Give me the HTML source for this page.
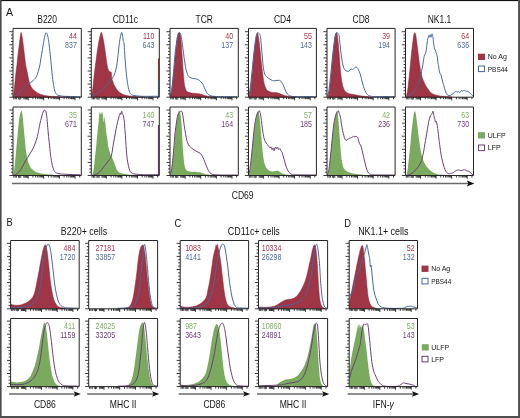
<!DOCTYPE html>
<html><head><meta charset="utf-8"><style>
html,body{margin:0;padding:0;background:#fff;}
body{width:520px;height:418px;overflow:hidden;}
svg{display:block;will-change:transform;}
text{font-family:"Liberation Sans",sans-serif;}
</style></head><body>
<svg xmlns="http://www.w3.org/2000/svg" width="520" height="418" viewBox="0 0 520 418">
<rect x="0" y="0" width="520" height="418" fill="#fff"/>
<path d="M13.40,97.00 C13.43,96.78 13.46,96.83 13.60,95.60 C13.74,94.37 14.04,91.76 14.30,89.30 C14.56,86.84 14.91,83.11 15.20,80.20 C15.49,77.29 15.81,73.63 16.10,71.10 C16.39,68.57 16.71,66.93 17.00,64.40 C17.29,61.87 17.56,58.21 17.90,55.30 C18.24,52.39 18.73,49.11 19.10,46.20 C19.47,43.29 19.88,39.31 20.20,37.10 C20.52,34.89 20.78,32.40 21.10,32.40 C21.42,32.40 21.83,34.89 22.20,37.10 C22.57,39.31 23.03,43.29 23.40,46.20 C23.77,49.11 24.15,52.39 24.50,55.30 C24.85,58.21 25.20,61.87 25.60,64.40 C26.00,66.93 26.63,69.31 27.00,71.10 C27.37,72.89 27.61,74.14 27.90,75.60 C28.19,77.06 28.43,78.74 28.80,80.20 C29.17,81.66 29.54,83.24 30.20,84.70 C30.86,86.16 31.73,87.99 32.90,89.30 C34.07,90.61 36.04,92.04 37.50,92.90 C38.96,93.76 40.26,94.19 42.00,94.70 C43.74,95.21 45.52,95.76 48.40,96.10 C51.28,96.44 56.54,96.64 60.00,96.80 C63.46,96.96 68.40,97.05 70.00,97.10 L70.00,97.20 L13.40,97.20 Z" fill="#9f3545" stroke="#8e2236" stroke-width="0.5"/>
<path d="M13.80,96.50 C14.39,96.21 16.48,95.42 17.50,94.70 C18.52,93.98 19.34,93.01 20.20,92.00 C21.06,90.99 22.04,89.42 22.90,88.40 C23.76,87.38 24.72,86.34 25.60,85.60 C26.48,84.86 27.66,84.23 28.40,83.80 C29.14,83.37 29.62,83.27 30.20,82.90 C30.78,82.53 31.38,82.03 32.00,81.50 C32.62,80.97 33.38,80.38 34.10,79.60 C34.82,78.82 35.84,77.88 36.50,76.60 C37.16,75.32 37.66,73.47 38.20,71.60 C38.74,69.73 39.37,67.59 39.90,64.90 C40.43,62.21 40.97,58.02 41.50,54.80 C42.03,51.58 42.66,47.89 43.20,44.80 C43.74,41.71 44.44,37.44 44.90,35.50 C45.36,33.56 45.70,32.83 46.10,32.70 C46.50,32.57 46.98,33.31 47.40,34.70 C47.82,36.09 48.30,38.71 48.70,41.40 C49.10,44.09 49.48,47.74 49.90,51.50 C50.32,55.26 50.90,60.88 51.30,64.90 C51.70,68.92 52.00,73.13 52.40,76.60 C52.80,80.07 53.32,84.06 53.80,86.60 C54.28,89.14 54.81,91.16 55.40,92.50 C55.99,93.84 56.64,94.47 57.50,95.00 C58.36,95.53 59.76,95.59 60.80,95.80 C61.84,96.01 62.08,96.19 64.00,96.30 C65.92,96.41 70.16,96.42 72.80,96.50 C75.44,96.58 79.27,96.75 80.50,96.80" fill="none" stroke="#46689a" stroke-width="1.00" stroke-linejoin="round"/>
<path d="M13.30,175.50 C13.33,175.26 13.32,175.04 13.50,174.00 C13.68,172.96 14.05,171.94 14.40,169.00 C14.75,166.06 15.30,159.89 15.70,155.60 C16.10,151.31 16.53,146.22 16.90,142.20 C17.27,138.18 17.66,133.99 18.00,130.50 C18.34,127.01 18.65,123.09 19.00,120.40 C19.35,117.71 19.82,115.25 20.20,113.70 C20.58,112.15 21.08,110.83 21.40,110.70 C21.72,110.57 21.93,111.35 22.20,112.90 C22.47,114.45 22.80,117.33 23.10,120.40 C23.40,123.47 23.78,128.61 24.10,132.10 C24.42,135.59 24.78,139.11 25.10,142.20 C25.42,145.29 25.76,148.86 26.10,151.40 C26.44,153.94 26.80,156.23 27.20,158.10 C27.60,159.97 28.10,161.68 28.60,163.10 C29.10,164.52 29.63,165.93 30.30,167.00 C30.97,168.07 31.87,169.00 32.80,169.80 C33.73,170.60 34.76,171.41 36.10,172.00 C37.44,172.59 39.46,173.13 41.20,173.50 C42.94,173.87 44.79,174.08 47.00,174.30 C49.21,174.52 52.12,174.74 55.00,174.90 C57.88,175.06 63.40,175.24 65.00,175.30 L65.00,175.50 L13.30,175.50 Z" fill="#7aaa5e"/>
<path d="M13.50,175.40 C14.17,175.05 16.48,174.22 17.70,173.20 C18.92,172.18 20.03,170.62 21.10,169.00 C22.17,167.38 23.33,164.97 24.40,163.10 C25.47,161.23 26.86,158.90 27.80,157.30 C28.74,155.70 29.50,154.44 30.30,153.10 C31.10,151.76 32.00,150.52 32.80,148.90 C33.60,147.28 34.63,144.74 35.30,143.00 C35.97,141.26 36.47,140.00 37.00,138.00 C37.53,136.00 38.10,132.90 38.60,130.50 C39.10,128.10 39.67,124.97 40.10,123.00 C40.53,121.03 40.92,119.69 41.30,118.20 C41.68,116.71 42.12,114.90 42.50,113.70 C42.88,112.50 43.30,111.23 43.70,110.70 C44.10,110.17 44.63,110.19 45.00,110.40 C45.37,110.61 45.68,110.67 46.00,112.00 C46.32,113.33 46.68,115.74 47.00,118.70 C47.32,121.66 47.65,126.74 48.00,130.50 C48.35,134.26 48.82,138.46 49.20,142.20 C49.58,145.94 50.00,150.68 50.40,153.90 C50.80,157.12 51.27,160.03 51.70,162.30 C52.13,164.57 52.62,166.63 53.10,168.10 C53.58,169.57 54.11,170.68 54.70,171.50 C55.29,172.32 55.66,172.80 56.80,173.20 C57.94,173.60 59.66,173.79 61.80,174.00 C63.94,174.21 67.21,174.37 70.20,174.50 C73.19,174.63 78.85,174.75 80.50,174.80" fill="none" stroke="#6c3d78" stroke-width="1.00" stroke-linejoin="round"/>
<path d="M91.80,97.00 C91.83,96.68 91.81,96.66 92.00,95.00 C92.19,93.34 92.65,89.82 93.00,86.60 C93.35,83.38 93.74,78.92 94.20,74.90 C94.66,70.88 95.37,65.52 95.90,61.50 C96.43,57.48 96.97,53.29 97.50,49.80 C98.03,46.31 98.74,42.12 99.20,39.70 C99.66,37.28 100.05,35.90 100.40,34.70 C100.75,33.50 101.11,32.20 101.40,32.20 C101.69,32.20 101.88,33.50 102.20,34.70 C102.52,35.90 103.00,37.56 103.40,39.70 C103.80,41.84 104.30,45.41 104.70,48.10 C105.10,50.79 105.56,54.08 105.90,56.50 C106.24,58.92 106.53,61.46 106.80,63.20 C107.07,64.94 107.28,66.20 107.60,67.40 C107.92,68.60 108.40,69.98 108.80,70.70 C109.20,71.42 109.70,71.63 110.10,71.90 C110.50,72.17 111.03,71.38 111.30,72.40 C111.57,73.42 111.54,76.83 111.80,78.30 C112.06,79.77 112.55,80.53 112.90,81.60 C113.25,82.67 113.65,84.20 114.00,85.00 C114.35,85.80 114.70,85.94 115.10,86.60 C115.50,87.26 115.96,88.32 116.50,89.10 C117.04,89.88 117.78,90.83 118.50,91.50 C119.22,92.17 120.20,92.80 121.00,93.30 C121.80,93.80 122.38,94.20 123.50,94.60 C124.62,95.00 126.16,95.50 128.00,95.80 C129.84,96.10 132.28,96.31 135.00,96.50 C137.72,96.69 143.40,96.92 145.00,97.00 L145.00,97.20 L91.80,97.20 Z" fill="#9f3545" stroke="#8e2236" stroke-width="0.5"/>
<path d="M91.70,96.70 C92.23,96.43 93.93,95.67 95.00,95.00 C96.07,94.33 97.33,93.30 98.40,92.50 C99.47,91.70 100.63,90.94 101.70,90.00 C102.77,89.06 104.03,87.67 105.10,86.60 C106.17,85.53 107.47,84.37 108.40,83.30 C109.33,82.23 110.08,80.97 110.90,79.90 C111.72,78.83 112.83,77.80 113.50,76.60 C114.17,75.40 114.57,74.27 115.10,72.40 C115.63,70.53 116.32,67.72 116.80,64.90 C117.28,62.08 117.70,58.22 118.10,54.80 C118.50,51.38 118.92,46.43 119.30,43.50 C119.68,40.57 120.12,38.28 120.50,36.50 C120.88,34.72 121.35,32.42 121.70,32.40 C122.05,32.38 122.43,34.96 122.70,36.40 C122.97,37.84 123.19,40.33 123.40,41.40 C123.61,42.47 123.79,41.23 124.00,43.10 C124.21,44.97 124.46,49.61 124.70,53.10 C124.94,56.59 125.18,61.14 125.50,64.90 C125.82,68.66 126.30,73.26 126.70,76.60 C127.10,79.94 127.52,83.26 128.00,85.80 C128.48,88.34 129.03,91.03 129.70,92.50 C130.37,93.97 131.13,94.47 132.20,95.00 C133.27,95.53 134.66,95.59 136.40,95.80 C138.14,96.01 139.61,96.22 143.10,96.30 C146.59,96.38 155.78,96.30 158.20,96.30" fill="none" stroke="#46689a" stroke-width="1.00" stroke-linejoin="round"/>
<path d="M92.30,175.50 C92.33,175.39 92.28,175.84 92.50,174.80 C92.72,173.76 93.30,171.80 93.70,169.00 C94.10,166.20 94.57,161.32 95.00,157.30 C95.43,153.28 96.00,147.93 96.40,143.90 C96.80,139.87 97.18,135.32 97.50,132.10 C97.82,128.88 98.13,126.47 98.40,123.80 C98.67,121.13 98.99,117.29 99.20,115.40 C99.41,113.51 99.51,112.14 99.70,112.00 C99.89,111.86 100.18,114.63 100.40,114.50 C100.62,114.37 100.89,111.20 101.10,111.20 C101.31,111.20 101.49,114.37 101.70,114.50 C101.91,114.63 102.18,111.60 102.40,112.00 C102.62,112.40 102.86,115.38 103.10,117.00 C103.34,118.62 103.64,122.10 103.90,122.10 C104.16,122.10 104.46,116.73 104.70,117.00 C104.94,117.27 105.16,121.38 105.40,123.80 C105.64,126.22 105.90,129.70 106.20,132.10 C106.50,134.50 107.00,136.66 107.30,138.80 C107.60,140.94 107.84,143.88 108.10,145.50 C108.36,147.12 108.63,147.83 108.90,148.90 C109.17,149.97 109.48,151.13 109.80,152.20 C110.12,153.27 110.53,154.66 110.90,155.60 C111.27,156.54 111.68,157.30 112.10,158.10 C112.52,158.90 113.10,159.66 113.50,160.60 C113.90,161.54 114.26,163.06 114.60,164.00 C114.94,164.94 115.25,165.57 115.60,166.50 C115.95,167.43 116.34,168.92 116.80,169.80 C117.26,170.68 117.80,171.46 118.50,172.00 C119.20,172.54 119.94,172.83 121.20,173.20 C122.46,173.57 124.19,174.01 126.40,174.30 C128.61,174.59 132.02,174.82 135.00,175.00 C137.98,175.18 143.40,175.34 145.00,175.40 L145.00,175.50 L92.30,175.50 Z" fill="#7aaa5e"/>
<path d="M91.70,175.60 C92.50,175.34 95.36,174.66 96.70,174.00 C98.04,173.34 99.03,172.57 100.10,171.50 C101.17,170.43 102.33,168.64 103.40,167.30 C104.47,165.96 105.86,164.30 106.80,163.10 C107.74,161.90 108.64,160.73 109.30,159.80 C109.96,158.87 110.45,158.52 110.90,157.30 C111.35,156.08 111.75,154.09 112.10,152.20 C112.45,150.31 112.75,147.64 113.10,145.50 C113.45,143.36 113.92,140.94 114.30,138.80 C114.68,136.66 115.10,134.24 115.50,132.10 C115.90,129.96 116.40,127.27 116.80,125.40 C117.20,123.53 117.60,121.97 118.00,120.40 C118.40,118.83 118.93,116.80 119.30,115.60 C119.67,114.40 120.03,113.08 120.30,112.90 C120.57,112.72 120.78,114.77 121.00,114.50 C121.22,114.23 121.46,111.33 121.70,111.20 C121.94,111.07 122.23,113.03 122.50,113.70 C122.77,114.37 123.18,114.60 123.40,115.40 C123.62,116.20 123.74,117.63 123.90,118.70 C124.06,119.77 124.22,120.21 124.40,122.10 C124.58,123.99 124.79,127.56 125.00,130.50 C125.21,133.44 125.48,137.28 125.70,140.50 C125.92,143.72 126.16,147.66 126.40,150.60 C126.64,153.54 126.88,156.50 127.20,158.90 C127.52,161.30 128.00,163.78 128.40,165.60 C128.80,167.42 129.22,169.15 129.70,170.30 C130.18,171.45 130.58,172.21 131.40,172.80 C132.22,173.39 132.93,173.70 134.80,174.00 C136.67,174.30 139.36,174.59 143.10,174.70 C146.84,174.81 155.78,174.70 158.20,174.70" fill="none" stroke="#6c3d78" stroke-width="1.00" stroke-linejoin="round"/>
<path d="M170.30,97.00 C170.33,96.81 170.28,96.92 170.50,95.80 C170.72,94.68 171.30,92.80 171.70,90.00 C172.10,87.20 172.57,82.32 173.00,78.30 C173.43,74.28 174.00,68.93 174.40,64.90 C174.80,60.87 175.13,56.59 175.50,53.10 C175.87,49.61 176.35,45.92 176.70,43.10 C177.05,40.28 177.38,37.16 177.70,35.50 C178.02,33.84 178.38,33.10 178.70,32.70 C179.02,32.30 179.40,32.41 179.70,33.00 C180.00,33.59 180.33,34.51 180.60,36.40 C180.87,38.29 181.14,41.58 181.40,44.80 C181.66,48.02 181.93,52.48 182.20,56.50 C182.47,60.52 182.83,66.16 183.10,69.90 C183.37,73.64 183.63,77.23 183.90,79.90 C184.17,82.57 184.45,84.94 184.80,86.60 C185.15,88.26 185.62,89.44 186.10,90.30 C186.58,91.16 186.94,91.57 187.80,92.00 C188.66,92.43 190.11,92.76 191.50,93.00 C192.89,93.24 195.14,93.34 196.50,93.50 C197.86,93.66 199.12,93.82 200.00,94.00 C200.88,94.18 201.20,94.33 202.00,94.60 C202.80,94.87 204.04,95.44 205.00,95.70 C205.96,95.96 206.88,96.06 208.00,96.20 C209.12,96.34 210.72,96.47 212.00,96.60 C213.28,96.73 215.36,96.94 216.00,97.00 L216.00,97.20 L170.30,97.20 Z" fill="#9f3545" stroke="#8e2236" stroke-width="0.5"/>
<path d="M170.00,95.80 C170.22,95.14 170.97,93.97 171.40,91.70 C171.83,89.43 172.30,85.36 172.70,81.60 C173.10,77.84 173.53,72.49 173.90,68.20 C174.27,63.91 174.60,58.82 175.00,54.80 C175.40,50.78 176.00,46.04 176.40,43.10 C176.80,40.16 177.15,37.95 177.50,36.40 C177.85,34.85 178.25,33.99 178.60,33.40 C178.95,32.81 179.38,32.62 179.70,32.70 C180.02,32.78 180.28,32.78 180.60,33.90 C180.92,35.02 181.30,37.16 181.70,39.70 C182.10,42.24 182.67,46.58 183.10,49.80 C183.53,53.02 184.00,56.98 184.40,59.80 C184.80,62.62 185.22,65.38 185.60,67.40 C185.98,69.42 186.40,71.07 186.80,72.40 C187.20,73.73 187.62,74.90 188.10,75.70 C188.58,76.50 189.13,76.98 189.80,77.40 C190.47,77.82 191.50,78.11 192.30,78.30 C193.10,78.49 194.00,78.44 194.80,78.60 C195.60,78.76 196.55,79.00 197.30,79.30 C198.05,79.60 198.75,79.89 199.50,80.50 C200.25,81.11 201.36,82.28 202.00,83.10 C202.64,83.92 203.02,84.62 203.50,85.60 C203.98,86.58 204.52,88.14 205.00,89.20 C205.48,90.26 205.92,91.32 206.50,92.20 C207.08,93.08 207.86,94.11 208.60,94.70 C209.34,95.29 210.06,95.63 211.10,95.90 C212.14,96.17 213.18,96.29 215.10,96.40 C217.02,96.51 219.60,96.57 223.10,96.60 C226.60,96.63 234.78,96.60 237.00,96.60" fill="none" stroke="#46689a" stroke-width="1.00" stroke-linejoin="round"/>
<path d="M170.30,175.50 C170.33,175.39 170.28,175.84 170.50,174.80 C170.72,173.76 171.30,171.80 171.70,169.00 C172.10,166.20 172.57,161.32 173.00,157.30 C173.43,153.28 174.00,147.93 174.40,143.90 C174.80,139.87 175.13,135.59 175.50,132.10 C175.87,128.61 176.35,124.92 176.70,122.10 C177.05,119.28 177.40,116.24 177.70,114.50 C178.00,112.76 178.33,111.81 178.60,111.20 C178.87,110.59 179.14,110.43 179.40,110.70 C179.66,110.97 179.93,111.62 180.20,112.90 C180.47,114.18 180.83,115.88 181.10,118.70 C181.37,121.52 181.64,126.21 181.90,130.50 C182.16,134.79 182.43,141.21 182.70,145.50 C182.97,149.79 183.33,154.21 183.60,157.30 C183.87,160.39 184.08,162.93 184.40,164.80 C184.72,166.67 185.14,168.01 185.60,169.00 C186.06,169.99 186.63,170.60 187.30,171.00 C187.97,171.40 188.87,171.37 189.80,171.50 C190.73,171.63 192.03,171.72 193.10,171.80 C194.17,171.88 195.64,171.92 196.50,172.00 C197.36,172.08 197.94,172.25 198.50,172.30 C199.06,172.35 199.44,172.20 200.00,172.30 C200.56,172.40 201.20,172.63 202.00,172.90 C202.80,173.17 204.04,173.73 205.00,174.00 C205.96,174.27 206.86,174.42 208.00,174.60 C209.14,174.78 210.82,174.96 212.10,175.10 C213.38,175.24 215.38,175.44 216.00,175.50 L216.00,175.50 L170.30,175.50 Z" fill="#7aaa5e"/>
<path d="M170.00,174.80 C170.22,174.14 170.97,172.97 171.40,170.70 C171.83,168.43 172.30,164.36 172.70,160.60 C173.10,156.84 173.53,151.49 173.90,147.20 C174.27,142.91 174.60,137.69 175.00,133.80 C175.40,129.91 176.00,125.72 176.40,122.90 C176.80,120.08 177.10,117.80 177.50,116.20 C177.90,114.60 178.48,113.57 178.90,112.90 C179.32,112.23 179.75,112.27 180.10,112.00 C180.45,111.73 180.78,111.20 181.10,111.20 C181.42,111.20 181.78,111.07 182.10,112.00 C182.42,112.93 182.76,114.86 183.10,117.00 C183.44,119.14 183.80,122.71 184.20,125.40 C184.60,128.09 185.17,131.38 185.60,133.80 C186.03,136.22 186.45,138.76 186.90,140.50 C187.35,142.24 187.81,143.63 188.40,144.70 C188.99,145.77 189.85,146.48 190.60,147.20 C191.35,147.92 192.30,148.61 193.10,149.20 C193.90,149.79 194.82,150.44 195.60,150.90 C196.38,151.36 197.30,151.75 198.00,152.10 C198.70,152.45 199.44,152.65 200.00,153.10 C200.56,153.55 201.02,154.18 201.50,154.90 C201.98,155.62 202.52,156.61 203.00,157.60 C203.48,158.59 204.02,159.90 204.50,161.10 C204.98,162.30 205.52,163.88 206.00,165.10 C206.48,166.32 207.00,167.64 207.50,168.70 C208.00,169.76 208.52,170.90 209.10,171.70 C209.68,172.50 210.30,173.22 211.10,173.70 C211.90,174.18 212.18,174.49 214.10,174.70 C216.02,174.91 219.36,174.95 223.10,175.00 C226.84,175.05 235.20,175.00 237.50,175.00" fill="none" stroke="#6c3d78" stroke-width="1.00" stroke-linejoin="round"/>
<path d="M248.80,97.00 C248.83,96.81 248.78,96.65 249.00,95.80 C249.22,94.95 249.82,93.97 250.20,91.70 C250.58,89.43 251.00,85.36 251.40,81.60 C251.80,77.84 252.28,72.49 252.70,68.20 C253.12,63.91 253.60,58.69 254.00,54.80 C254.40,50.91 254.82,46.84 255.20,43.90 C255.58,40.96 256.05,38.08 256.40,36.40 C256.75,34.72 257.11,33.54 257.40,33.40 C257.69,33.26 257.93,34.22 258.20,35.50 C258.47,36.78 258.78,38.84 259.10,41.40 C259.42,43.96 259.83,48.01 260.20,51.50 C260.57,54.99 260.98,59.46 261.40,63.20 C261.82,66.94 262.37,71.68 262.80,74.90 C263.23,78.12 263.62,81.16 264.10,83.30 C264.58,85.44 265.21,87.10 265.80,88.30 C266.39,89.50 266.95,90.18 267.80,90.80 C268.65,91.42 269.90,91.91 271.10,92.20 C272.30,92.49 274.04,92.42 275.30,92.60 C276.56,92.78 277.93,92.98 279.00,93.30 C280.07,93.62 281.04,94.22 282.00,94.60 C282.96,94.98 284.02,95.44 285.00,95.70 C285.98,95.96 287.12,96.06 288.10,96.20 C289.08,96.34 290.00,96.47 291.10,96.60 C292.20,96.73 294.38,96.94 295.00,97.00 L295.00,97.20 L248.80,97.20 Z" fill="#9f3545" stroke="#8e2236" stroke-width="0.5"/>
<path d="M248.50,95.80 C248.69,95.14 249.30,93.97 249.70,91.70 C250.10,89.43 250.57,85.36 251.00,81.60 C251.43,77.84 251.97,72.49 252.40,68.20 C252.83,63.91 253.28,58.69 253.70,54.80 C254.12,50.91 254.62,46.84 255.00,43.90 C255.38,40.96 255.76,38.14 256.10,36.40 C256.44,34.66 256.78,33.59 257.10,33.00 C257.42,32.41 257.73,32.56 258.10,32.70 C258.47,32.84 259.03,33.31 259.40,33.90 C259.77,34.49 260.08,34.40 260.40,36.40 C260.72,38.40 261.08,42.91 261.40,46.40 C261.72,49.89 262.08,54.71 262.40,58.20 C262.72,61.69 263.02,65.66 263.40,68.20 C263.78,70.74 264.32,72.76 264.80,74.10 C265.28,75.44 265.79,75.93 266.40,76.60 C267.01,77.27 267.85,77.77 268.60,78.30 C269.35,78.83 270.30,79.50 271.10,79.90 C271.90,80.30 272.78,80.70 273.60,80.80 C274.42,80.90 275.42,80.58 276.20,80.50 C276.98,80.42 277.84,80.27 278.50,80.30 C279.16,80.33 279.82,80.41 280.30,80.70 C280.78,80.99 281.07,81.48 281.50,82.10 C281.93,82.72 282.52,83.62 283.00,84.60 C283.48,85.58 284.02,87.06 284.50,88.20 C284.98,89.34 285.50,90.74 286.00,91.70 C286.50,92.66 287.02,93.56 287.60,94.20 C288.18,94.84 288.88,95.35 289.60,95.70 C290.32,96.05 291.06,96.26 292.10,96.40 C293.14,96.54 292.28,96.57 296.10,96.60 C299.92,96.63 312.82,96.60 316.00,96.60" fill="none" stroke="#46689a" stroke-width="1.00" stroke-linejoin="round"/>
<path d="M248.80,175.50 C248.83,175.39 248.78,175.84 249.00,174.80 C249.22,173.76 249.82,171.80 250.20,169.00 C250.58,166.20 251.00,161.32 251.40,157.30 C251.80,153.28 252.28,147.93 252.70,143.90 C253.12,139.87 253.60,135.46 254.00,132.10 C254.40,128.74 254.82,125.57 255.20,122.90 C255.58,120.23 256.05,117.14 256.40,115.40 C256.75,113.66 257.11,112.75 257.40,112.00 C257.69,111.25 257.93,110.43 258.20,110.70 C258.47,110.97 258.80,111.88 259.10,113.70 C259.40,115.52 259.78,118.88 260.10,122.10 C260.42,125.32 260.78,130.06 261.10,133.80 C261.42,137.54 261.78,142.01 262.10,145.50 C262.42,148.99 262.73,152.78 263.10,155.60 C263.47,158.42 263.92,161.18 264.40,163.10 C264.88,165.02 265.43,166.45 266.10,167.60 C266.77,168.75 267.66,169.68 268.60,170.30 C269.54,170.92 270.93,171.39 272.00,171.50 C273.07,171.61 274.42,171.13 275.30,171.00 C276.18,170.87 276.91,170.65 277.50,170.70 C278.09,170.75 278.44,170.98 279.00,171.30 C279.56,171.62 280.20,172.27 281.00,172.70 C281.80,173.13 282.86,173.66 284.00,174.00 C285.14,174.34 286.82,174.56 288.10,174.80 C289.38,175.04 291.38,175.39 292.00,175.50 L292.00,175.50 L248.80,175.50 Z" fill="#7aaa5e"/>
<path d="M248.50,174.80 C248.69,174.14 249.30,172.97 249.70,170.70 C250.10,168.43 250.57,164.36 251.00,160.60 C251.43,156.84 251.97,151.49 252.40,147.20 C252.83,142.91 253.28,137.69 253.70,133.80 C254.12,129.91 254.57,125.72 255.00,122.90 C255.43,120.08 255.97,117.80 256.40,116.20 C256.83,114.60 257.33,113.62 257.70,112.90 C258.07,112.18 258.43,112.05 258.70,111.70 C258.97,111.35 259.13,110.38 259.40,110.70 C259.67,111.02 260.08,112.15 260.40,113.70 C260.72,115.25 261.08,117.98 261.40,120.40 C261.72,122.82 262.05,126.26 262.40,128.80 C262.75,131.34 263.22,134.43 263.60,136.30 C263.98,138.17 264.40,139.43 264.80,140.50 C265.20,141.57 265.68,142.33 266.10,143.00 C266.52,143.67 266.97,144.16 267.40,144.70 C267.83,145.24 268.38,145.87 268.80,146.40 C269.22,146.93 269.63,147.92 270.00,148.00 C270.37,148.08 270.78,146.63 271.10,146.90 C271.42,147.17 271.68,149.52 272.00,149.70 C272.32,149.88 272.76,147.81 273.10,148.00 C273.44,148.19 273.75,151.03 274.10,150.90 C274.45,150.77 274.92,147.50 275.30,147.20 C275.68,146.90 276.15,149.03 276.50,149.00 C276.85,148.97 277.15,146.92 277.50,147.00 C277.85,147.08 278.30,149.24 278.70,149.50 C279.10,149.76 279.63,148.34 280.00,148.60 C280.37,148.86 280.68,150.54 281.00,151.10 C281.32,151.66 281.68,151.38 282.00,152.10 C282.32,152.82 282.68,154.48 283.00,155.60 C283.32,156.72 283.68,157.98 284.00,159.10 C284.32,160.22 284.68,161.48 285.00,162.60 C285.32,163.72 285.63,165.04 286.00,166.10 C286.37,167.16 286.88,168.30 287.30,169.20 C287.72,170.10 288.15,171.03 288.60,171.70 C289.05,172.37 289.54,172.97 290.10,173.40 C290.66,173.83 291.14,174.18 292.10,174.40 C293.06,174.62 292.28,174.70 296.10,174.80 C299.92,174.90 312.82,174.97 316.00,175.00" fill="none" stroke="#6c3d78" stroke-width="1.00" stroke-linejoin="round"/>
<path d="M327.80,97.00 C327.83,96.81 327.78,96.65 328.00,95.80 C328.22,94.95 328.82,93.97 329.20,91.70 C329.58,89.43 330.00,85.36 330.40,81.60 C330.80,77.84 331.28,72.49 331.70,68.20 C332.12,63.91 332.60,58.69 333.00,54.80 C333.40,50.91 333.82,46.99 334.20,43.90 C334.58,40.81 335.05,37.29 335.40,35.50 C335.75,33.71 336.11,32.83 336.40,32.70 C336.69,32.57 336.93,33.31 337.20,34.70 C337.47,36.09 337.80,38.46 338.10,41.40 C338.40,44.34 338.78,49.08 339.10,53.10 C339.42,57.12 339.78,62.74 340.10,66.50 C340.42,70.26 340.75,73.78 341.10,76.60 C341.45,79.42 341.87,82.10 342.30,84.10 C342.73,86.10 343.22,87.84 343.80,89.10 C344.38,90.36 345.02,91.26 345.90,92.00 C346.78,92.74 347.96,93.28 349.30,93.70 C350.64,94.12 352.91,94.31 354.30,94.60 C355.69,94.89 356.77,95.26 358.00,95.50 C359.23,95.74 360.72,95.94 362.00,96.10 C363.28,96.26 364.56,96.36 366.00,96.50 C367.44,96.64 370.20,96.92 371.00,97.00 L371.00,97.20 L327.80,97.20 Z" fill="#9f3545" stroke="#8e2236" stroke-width="0.5"/>
<path d="M327.50,95.80 C327.69,95.14 328.30,93.97 328.70,91.70 C329.10,89.43 329.57,85.36 330.00,81.60 C330.43,77.84 330.97,72.49 331.40,68.20 C331.83,63.91 332.28,58.69 332.70,54.80 C333.12,50.91 333.63,46.84 334.00,43.90 C334.37,40.96 334.66,38.14 335.00,36.40 C335.34,34.66 335.76,33.59 336.10,33.00 C336.44,32.41 336.78,32.64 337.10,32.70 C337.42,32.76 337.78,32.95 338.10,33.40 C338.42,33.85 338.78,33.68 339.10,35.50 C339.42,37.32 339.76,41.71 340.10,44.80 C340.44,47.89 340.80,51.86 341.20,54.80 C341.60,57.74 342.17,61.06 342.60,63.20 C343.03,65.34 343.37,67.00 343.90,68.20 C344.43,69.40 345.16,70.22 345.90,70.70 C346.64,71.18 347.68,71.47 348.50,71.20 C349.32,70.93 350.34,69.27 351.00,69.00 C351.66,68.73 352.07,69.63 352.60,69.50 C353.13,69.37 353.76,68.62 354.30,68.20 C354.84,67.78 355.46,66.87 356.00,66.90 C356.54,66.93 357.17,67.65 357.70,68.40 C358.23,69.15 358.80,70.37 359.30,71.60 C359.80,72.83 360.37,74.58 360.80,76.10 C361.23,77.62 361.57,79.42 362.00,81.10 C362.43,82.78 363.02,85.06 363.50,86.60 C363.98,88.14 364.50,89.56 365.00,90.70 C365.50,91.84 366.02,92.95 366.60,93.70 C367.18,94.45 367.88,95.00 368.60,95.40 C369.32,95.80 370.06,96.01 371.10,96.20 C372.14,96.39 371.36,96.54 375.10,96.60 C378.84,96.66 391.40,96.60 394.50,96.60" fill="none" stroke="#46689a" stroke-width="1.00" stroke-linejoin="round"/>
<path d="M327.80,175.50 C327.83,175.39 327.78,175.84 328.00,174.80 C328.22,173.76 328.82,171.80 329.20,169.00 C329.58,166.20 330.00,161.32 330.40,157.30 C330.80,153.28 331.28,147.93 331.70,143.90 C332.12,139.87 332.60,135.46 333.00,132.10 C333.40,128.74 333.82,125.57 334.20,122.90 C334.58,120.23 335.05,117.19 335.40,115.40 C335.75,113.61 336.13,112.37 336.40,111.70 C336.67,111.03 336.86,110.75 337.10,111.20 C337.34,111.65 337.64,112.48 337.90,114.50 C338.16,116.52 338.41,120.17 338.70,123.80 C338.99,127.43 339.38,132.91 339.70,137.20 C340.02,141.49 340.36,146.86 340.70,150.60 C341.04,154.34 341.42,158.06 341.80,160.60 C342.18,163.14 342.62,165.03 343.10,166.50 C343.58,167.97 344.08,168.95 344.80,169.80 C345.52,170.65 346.48,171.26 347.60,171.80 C348.72,172.34 350.33,172.85 351.80,173.20 C353.27,173.55 355.33,173.79 356.80,174.00 C358.27,174.21 359.53,174.36 361.00,174.50 C362.47,174.64 364.24,174.74 366.00,174.90 C367.76,175.06 371.04,175.40 372.00,175.50 L372.00,175.50 L327.80,175.50 Z" fill="#7aaa5e"/>
<path d="M327.50,174.80 C327.69,174.14 328.30,172.97 328.70,170.70 C329.10,168.43 329.57,164.36 330.00,160.60 C330.43,156.84 330.97,151.49 331.40,147.20 C331.83,142.91 332.28,137.69 332.70,133.80 C333.12,129.91 333.57,125.72 334.00,122.90 C334.43,120.08 334.97,117.80 335.40,116.20 C335.83,114.60 336.33,113.62 336.70,112.90 C337.07,112.18 337.43,112.05 337.70,111.70 C337.97,111.35 338.13,110.38 338.40,110.70 C338.67,111.02 339.08,112.69 339.40,113.70 C339.72,114.71 340.08,115.38 340.40,117.00 C340.72,118.62 341.05,121.64 341.40,123.80 C341.75,125.96 342.22,128.63 342.60,130.50 C342.98,132.37 343.45,134.17 343.80,135.50 C344.15,136.83 344.46,138.00 344.80,138.80 C345.14,139.60 345.53,140.36 345.90,140.50 C346.27,140.64 346.68,139.97 347.10,139.70 C347.52,139.43 348.07,139.07 348.50,138.80 C348.93,138.53 349.40,138.13 349.80,138.00 C350.20,137.87 350.63,138.13 351.00,138.00 C351.37,137.87 351.70,137.47 352.10,137.20 C352.50,136.93 353.07,136.36 353.50,136.30 C353.93,136.24 354.37,136.80 354.80,136.80 C355.23,136.80 355.77,136.24 356.20,136.30 C356.63,136.36 357.13,136.58 357.50,137.20 C357.87,137.82 358.18,139.19 358.50,140.20 C358.82,141.21 359.10,142.57 359.50,143.50 C359.90,144.43 360.60,144.94 361.00,146.00 C361.40,147.06 361.68,148.80 362.00,150.10 C362.32,151.40 362.68,152.74 363.00,154.10 C363.32,155.46 363.66,157.16 364.00,158.60 C364.34,160.04 364.76,161.72 365.10,163.10 C365.44,164.48 365.75,165.98 366.10,167.20 C366.45,168.42 366.90,169.77 367.30,170.70 C367.70,171.63 368.07,172.41 368.60,173.00 C369.13,173.59 369.72,174.10 370.60,174.40 C371.48,174.70 370.28,174.80 374.10,174.90 C377.92,175.00 391.24,174.98 394.50,175.00" fill="none" stroke="#6c3d78" stroke-width="1.00" stroke-linejoin="round"/>
<path d="M406.30,97.00 C406.33,96.81 406.28,96.92 406.50,95.80 C406.72,94.68 407.30,92.80 407.70,90.00 C408.10,87.20 408.57,82.32 409.00,78.30 C409.43,74.28 410.00,68.93 410.40,64.90 C410.80,60.87 411.13,56.59 411.50,53.10 C411.87,49.61 412.35,45.92 412.70,43.10 C413.05,40.28 413.38,37.16 413.70,35.50 C414.02,33.84 414.38,32.83 414.70,32.70 C415.02,32.57 415.38,33.31 415.70,34.70 C416.02,36.09 416.38,38.98 416.70,41.40 C417.02,43.82 417.38,47.11 417.70,49.80 C418.02,52.49 418.35,55.53 418.70,58.20 C419.05,60.87 419.52,64.10 419.90,66.50 C420.28,68.90 420.70,71.31 421.10,73.20 C421.50,75.09 421.97,76.96 422.40,78.30 C422.83,79.64 423.32,80.53 423.80,81.60 C424.28,82.67 424.81,83.93 425.40,85.00 C425.99,86.07 426.76,87.23 427.50,88.30 C428.24,89.37 429.20,90.82 430.00,91.70 C430.80,92.58 431.57,93.26 432.50,93.80 C433.43,94.34 434.60,94.75 435.80,95.10 C437.00,95.45 438.53,95.79 440.00,96.00 C441.47,96.21 443.08,96.24 445.00,96.40 C446.92,96.56 450.88,96.90 452.00,97.00 L452.00,97.20 L406.30,97.20 Z" fill="#9f3545" stroke="#8e2236" stroke-width="0.5"/>
<path d="M406.50,96.70 C407.04,96.43 408.83,95.67 409.90,95.00 C410.97,94.33 412.27,93.44 413.20,92.50 C414.13,91.56 414.90,90.44 415.70,89.10 C416.50,87.76 417.53,85.83 418.20,84.10 C418.87,82.37 419.36,80.30 419.90,78.30 C420.44,76.30 421.14,73.74 421.60,71.60 C422.06,69.46 422.45,67.04 422.80,64.90 C423.15,62.76 423.51,59.82 423.80,58.20 C424.09,56.58 424.34,55.47 424.60,54.80 C424.86,54.13 425.13,54.80 425.40,54.00 C425.67,53.20 426.03,51.54 426.30,49.80 C426.57,48.06 426.83,44.97 427.10,43.10 C427.37,41.23 427.73,39.32 428.00,38.10 C428.27,36.88 428.56,35.64 428.80,35.50 C429.04,35.36 429.26,37.33 429.50,37.20 C429.74,37.07 430.04,34.70 430.30,34.70 C430.56,34.70 430.83,37.33 431.10,37.20 C431.37,37.07 431.73,34.03 432.00,33.90 C432.27,33.77 432.54,34.93 432.80,36.40 C433.06,37.87 433.33,41.10 433.60,43.10 C433.87,45.10 434.23,47.83 434.50,48.90 C434.77,49.97 435.03,49.13 435.30,49.80 C435.57,50.47 435.90,52.03 436.20,53.10 C436.50,54.17 436.91,54.88 437.20,56.50 C437.49,58.12 437.79,61.76 438.00,63.20 C438.21,64.64 438.26,64.08 438.50,65.50 C438.74,66.92 439.10,70.56 439.50,72.10 C439.90,73.64 440.60,73.98 441.00,75.10 C441.40,76.22 441.68,77.82 442.00,79.10 C442.32,80.38 442.68,81.98 443.00,83.10 C443.32,84.22 443.66,84.96 444.00,86.10 C444.34,87.24 444.68,88.98 445.10,90.20 C445.52,91.42 446.12,92.85 446.60,93.70 C447.08,94.55 447.54,95.21 448.10,95.50 C448.66,95.79 449.46,95.71 450.10,95.50 C450.74,95.29 451.46,94.65 452.10,94.20 C452.74,93.75 453.54,93.15 454.10,92.70 C454.66,92.25 455.12,91.51 455.60,91.40 C456.08,91.29 456.62,91.95 457.10,92.00 C457.58,92.05 458.15,91.62 458.60,91.70 C459.05,91.78 459.50,92.68 459.90,92.50 C460.30,92.32 460.67,90.81 461.10,90.60 C461.53,90.39 462.10,91.26 462.60,91.20 C463.10,91.14 463.70,90.20 464.20,90.20 C464.70,90.20 465.14,91.01 465.70,91.20 C466.26,91.39 467.06,91.16 467.70,91.40 C468.34,91.64 469.06,92.17 469.70,92.70 C470.34,93.23 471.14,94.11 471.70,94.70 C472.26,95.29 472.96,96.13 473.20,96.40" fill="none" stroke="#46689a" stroke-width="1.00" stroke-linejoin="round"/>
<path d="M406.30,175.50 C406.33,175.39 406.28,175.84 406.50,174.80 C406.72,173.76 407.30,171.80 407.70,169.00 C408.10,166.20 408.57,161.32 409.00,157.30 C409.43,153.28 410.00,147.93 410.40,143.90 C410.80,139.87 411.13,135.59 411.50,132.10 C411.87,128.61 412.35,124.92 412.70,122.10 C413.05,119.28 413.38,116.24 413.70,114.50 C414.02,112.76 414.38,111.46 414.70,111.20 C415.02,110.94 415.38,111.43 415.70,112.90 C416.02,114.37 416.38,117.86 416.70,120.40 C417.02,122.94 417.38,126.11 417.70,128.80 C418.02,131.49 418.35,134.53 418.70,137.20 C419.05,139.87 419.52,143.10 419.90,145.50 C420.28,147.90 420.70,150.18 421.10,152.20 C421.50,154.22 421.97,156.63 422.40,158.10 C422.83,159.57 423.32,160.33 423.80,161.40 C424.28,162.47 424.81,163.81 425.40,164.80 C425.99,165.79 426.76,166.72 427.50,167.60 C428.24,168.48 429.20,169.55 430.00,170.30 C430.80,171.05 431.57,171.76 432.50,172.30 C433.43,172.84 434.60,173.35 435.80,173.70 C437.00,174.05 437.73,174.29 440.00,174.50 C442.27,174.71 444.88,174.89 450.00,175.00 C455.12,175.11 468.48,175.17 472.00,175.20 L472.00,175.50 L406.30,175.50 Z" fill="#7aaa5e"/>
<path d="M406.50,175.60 C407.17,175.34 409.48,174.66 410.70,174.00 C411.92,173.34 413.03,172.44 414.10,171.50 C415.17,170.56 416.47,169.30 417.40,168.10 C418.33,166.90 419.23,165.20 419.90,164.00 C420.57,162.80 421.14,161.94 421.60,160.60 C422.06,159.26 422.45,157.20 422.80,155.60 C423.15,154.00 423.46,152.47 423.80,150.60 C424.14,148.73 424.53,146.04 424.90,143.90 C425.27,141.76 425.68,139.62 426.10,137.20 C426.52,134.78 427.07,131.36 427.50,128.80 C427.93,126.24 428.40,123.09 428.80,121.20 C429.20,119.31 429.63,118.07 430.00,117.00 C430.37,115.93 430.76,115.03 431.10,114.50 C431.44,113.97 431.80,114.23 432.10,113.70 C432.40,113.17 432.73,110.93 433.00,111.20 C433.27,111.47 433.53,114.20 433.80,115.40 C434.07,116.60 434.43,117.63 434.70,118.70 C434.97,119.77 435.24,121.70 435.50,122.10 C435.76,122.50 436.03,120.67 436.30,121.20 C436.57,121.73 436.90,123.66 437.20,125.40 C437.50,127.14 437.88,129.52 438.20,132.10 C438.52,134.68 438.91,139.10 439.20,141.50 C439.49,143.90 439.71,145.08 440.00,147.10 C440.29,149.12 440.65,152.02 441.00,154.10 C441.35,156.18 441.80,158.34 442.20,160.10 C442.60,161.86 443.04,163.56 443.50,165.10 C443.96,166.64 444.60,168.53 445.10,169.70 C445.60,170.87 446.04,171.74 446.60,172.40 C447.16,173.06 447.96,173.64 448.60,173.80 C449.24,173.96 449.96,173.53 450.60,173.40 C451.24,173.27 451.96,173.27 452.60,173.00 C453.24,172.73 453.96,172.12 454.60,171.70 C455.24,171.28 455.96,170.67 456.60,170.40 C457.24,170.13 457.96,169.97 458.60,170.00 C459.24,170.03 459.96,170.57 460.60,170.60 C461.24,170.63 461.94,170.33 462.60,170.20 C463.26,170.07 464.04,169.72 464.70,169.80 C465.36,169.88 466.06,170.44 466.70,170.70 C467.34,170.96 468.06,171.08 468.70,171.40 C469.34,171.72 470.03,172.12 470.70,172.70 C471.37,173.28 472.55,174.63 472.90,175.00" fill="none" stroke="#6c3d78" stroke-width="1.00" stroke-linejoin="round"/>
<path d="M158.5,58.5V97" stroke="#9f3545" stroke-width="1.2"/>
<path d="M158.5,80V97" stroke="#46689a" stroke-width="0.9"/>
<path d="M158.5,125V175" stroke="#6c3d78" stroke-width="1.2"/>
<path d="M9.4,97.2H13.0M11.0,93.9H13.0M11.0,90.7H13.0M11.0,87.4H13.0M9.4,84.1H13.0M11.0,80.8H13.0M11.0,77.6H13.0M11.0,74.3H13.0M9.4,71.0H13.0M11.0,67.7H13.0M11.0,64.5H13.0M11.0,61.2H13.0M9.4,57.9H13.0M11.0,54.6H13.0M11.0,51.4H13.0M11.0,48.1H13.0M9.4,44.8H13.0M11.0,41.5H13.0M11.0,38.3H13.0M11.0,35.0H13.0M9.4,31.7H13.0M13.8,97.2V99.4M15.2,97.2V99.4M16.6,97.2V99.4M18.6,97.2V99.4M19.7,97.2V99.8M20.8,97.2V99.4M23.8,97.2V99.4M24.9,97.2V99.4M25.8,97.2V99.4M26.7,97.2V99.4M27.3,97.2V99.4M28.2,97.2V100.4M43.7,97.2V100.4M59.4,97.2V100.4M75.0,97.2V100.4M32.9,97.2V99.2M35.6,97.2V99.2M37.6,97.2V99.2M39.1,97.2V99.2M40.3,97.2V99.2M41.4,97.2V99.2M42.3,97.2V99.2M43.1,97.2V99.2M48.4,97.2V99.2M51.2,97.2V99.2M53.2,97.2V99.2M54.7,97.2V99.2M55.9,97.2V99.2M57.0,97.2V99.2M57.9,97.2V99.2M58.7,97.2V99.2M64.1,97.2V99.2M66.8,97.2V99.2M68.8,97.2V99.2M70.3,97.2V99.2M71.5,97.2V99.2M72.6,97.2V99.2M73.5,97.2V99.2M74.3,97.2V99.2M79.7,97.2V99.2" stroke="#1a1a1a" stroke-width="0.85" fill="none"/>
<path d="M13.0,28.4H81.3V97.2H13.0Z" fill="none" stroke="#262626" stroke-width="1"/>
<path d="M9.4,175.5H13.0M11.0,172.2H13.0M11.0,168.9H13.0M11.0,165.7H13.0M9.4,162.4H13.0M11.0,159.1H13.0M11.0,155.8H13.0M11.0,152.6H13.0M9.4,149.3H13.0M11.0,146.0H13.0M11.0,142.8H13.0M11.0,139.5H13.0M9.4,136.2H13.0M11.0,132.9H13.0M11.0,129.6H13.0M11.0,126.4H13.0M9.4,123.1H13.0M11.0,119.8H13.0M11.0,116.5H13.0M11.0,113.3H13.0M9.4,110.0H13.0M13.8,175.5V177.7M15.2,175.5V177.7M16.6,175.5V177.7M18.6,175.5V177.7M19.7,175.5V178.1M20.8,175.5V177.7M23.8,175.5V177.7M24.9,175.5V177.7M25.8,175.5V177.7M26.7,175.5V177.7M27.3,175.5V177.7M28.2,175.5V178.7M43.7,175.5V178.7M59.4,175.5V178.7M75.0,175.5V178.7M32.9,175.5V177.5M35.6,175.5V177.5M37.6,175.5V177.5M39.1,175.5V177.5M40.3,175.5V177.5M41.4,175.5V177.5M42.3,175.5V177.5M43.1,175.5V177.5M48.4,175.5V177.5M51.2,175.5V177.5M53.2,175.5V177.5M54.7,175.5V177.5M55.9,175.5V177.5M57.0,175.5V177.5M57.9,175.5V177.5M58.7,175.5V177.5M64.1,175.5V177.5M66.8,175.5V177.5M68.8,175.5V177.5M70.3,175.5V177.5M71.5,175.5V177.5M72.6,175.5V177.5M73.5,175.5V177.5M74.3,175.5V177.5M79.7,175.5V177.5" stroke="#1a1a1a" stroke-width="0.85" fill="none"/>
<path d="M13.0,107.0H81.3V175.5H13.0Z" fill="none" stroke="#262626" stroke-width="1"/>
<path d="M87.7,97.2H91.3M89.3,93.9H91.3M89.3,90.7H91.3M89.3,87.4H91.3M87.7,84.1H91.3M89.3,80.8H91.3M89.3,77.6H91.3M89.3,74.3H91.3M87.7,71.0H91.3M89.3,67.7H91.3M89.3,64.5H91.3M89.3,61.2H91.3M87.7,57.9H91.3M89.3,54.6H91.3M89.3,51.4H91.3M89.3,48.1H91.3M87.7,44.8H91.3M89.3,41.5H91.3M89.3,38.3H91.3M89.3,35.0H91.3M87.7,31.7H91.3M92.1,97.2V99.4M93.5,97.2V99.4M94.8,97.2V99.4M96.9,97.2V99.4M98.0,97.2V99.8M99.1,97.2V99.4M102.0,97.2V99.4M103.1,97.2V99.4M104.1,97.2V99.4M104.9,97.2V99.4M105.6,97.2V99.4M106.4,97.2V100.4M121.9,97.2V100.4M137.5,97.2V100.4M153.0,97.2V100.4M111.1,97.2V99.2M113.8,97.2V99.2M115.8,97.2V99.2M117.3,97.2V99.2M118.5,97.2V99.2M119.6,97.2V99.2M120.5,97.2V99.2M121.3,97.2V99.2M126.6,97.2V99.2M129.3,97.2V99.2M131.3,97.2V99.2M132.8,97.2V99.2M134.0,97.2V99.2M135.1,97.2V99.2M136.0,97.2V99.2M136.8,97.2V99.2M142.2,97.2V99.2M144.9,97.2V99.2M146.8,97.2V99.2M148.4,97.2V99.2M149.6,97.2V99.2M150.6,97.2V99.2M151.5,97.2V99.2M152.3,97.2V99.2M157.7,97.2V99.2" stroke="#1a1a1a" stroke-width="0.85" fill="none"/>
<path d="M91.3,28.4H159.3V97.2H91.3Z" fill="none" stroke="#262626" stroke-width="1"/>
<path d="M87.7,175.5H91.3M89.3,172.2H91.3M89.3,168.9H91.3M89.3,165.7H91.3M87.7,162.4H91.3M89.3,159.1H91.3M89.3,155.8H91.3M89.3,152.6H91.3M87.7,149.3H91.3M89.3,146.0H91.3M89.3,142.8H91.3M89.3,139.5H91.3M87.7,136.2H91.3M89.3,132.9H91.3M89.3,129.6H91.3M89.3,126.4H91.3M87.7,123.1H91.3M89.3,119.8H91.3M89.3,116.5H91.3M89.3,113.3H91.3M87.7,110.0H91.3M92.1,175.5V177.7M93.5,175.5V177.7M94.8,175.5V177.7M96.9,175.5V177.7M98.0,175.5V178.1M99.1,175.5V177.7M102.0,175.5V177.7M103.1,175.5V177.7M104.1,175.5V177.7M104.9,175.5V177.7M105.6,175.5V177.7M106.4,175.5V178.7M121.9,175.5V178.7M137.5,175.5V178.7M153.0,175.5V178.7M111.1,175.5V177.5M113.8,175.5V177.5M115.8,175.5V177.5M117.3,175.5V177.5M118.5,175.5V177.5M119.6,175.5V177.5M120.5,175.5V177.5M121.3,175.5V177.5M126.6,175.5V177.5M129.3,175.5V177.5M131.3,175.5V177.5M132.8,175.5V177.5M134.0,175.5V177.5M135.1,175.5V177.5M136.0,175.5V177.5M136.8,175.5V177.5M142.2,175.5V177.5M144.9,175.5V177.5M146.8,175.5V177.5M148.4,175.5V177.5M149.6,175.5V177.5M150.6,175.5V177.5M151.5,175.5V177.5M152.3,175.5V177.5M157.7,175.5V177.5" stroke="#1a1a1a" stroke-width="0.85" fill="none"/>
<path d="M91.3,107.0H159.3V175.5H91.3Z" fill="none" stroke="#262626" stroke-width="1"/>
<path d="M166.4,97.2H170.0M168.0,93.9H170.0M168.0,90.7H170.0M168.0,87.4H170.0M166.4,84.1H170.0M168.0,80.8H170.0M168.0,77.6H170.0M168.0,74.3H170.0M166.4,71.0H170.0M168.0,67.7H170.0M168.0,64.5H170.0M168.0,61.2H170.0M166.4,57.9H170.0M168.0,54.6H170.0M168.0,51.4H170.0M168.0,48.1H170.0M166.4,44.8H170.0M168.0,41.5H170.0M168.0,38.3H170.0M168.0,35.0H170.0M166.4,31.7H170.0M170.8,97.2V99.4M172.2,97.2V99.4M173.6,97.2V99.4M175.6,97.2V99.4M176.7,97.2V99.8M177.8,97.2V99.4M180.8,97.2V99.4M181.9,97.2V99.4M182.8,97.2V99.4M183.7,97.2V99.4M184.3,97.2V99.4M185.2,97.2V100.4M200.7,97.2V100.4M216.4,97.2V100.4M232.0,97.2V100.4M189.9,97.2V99.2M192.6,97.2V99.2M194.6,97.2V99.2M196.1,97.2V99.2M197.3,97.2V99.2M198.4,97.2V99.2M199.3,97.2V99.2M200.1,97.2V99.2M205.4,97.2V99.2M208.2,97.2V99.2M210.2,97.2V99.2M211.7,97.2V99.2M212.9,97.2V99.2M214.0,97.2V99.2M214.9,97.2V99.2M215.7,97.2V99.2M221.1,97.2V99.2M223.8,97.2V99.2M225.8,97.2V99.2M227.3,97.2V99.2M228.5,97.2V99.2M229.6,97.2V99.2M230.5,97.2V99.2M231.3,97.2V99.2M236.7,97.2V99.2" stroke="#1a1a1a" stroke-width="0.85" fill="none"/>
<path d="M170.0,28.4H238.3V97.2H170.0Z" fill="none" stroke="#262626" stroke-width="1"/>
<path d="M166.4,175.5H170.0M168.0,172.2H170.0M168.0,168.9H170.0M168.0,165.7H170.0M166.4,162.4H170.0M168.0,159.1H170.0M168.0,155.8H170.0M168.0,152.6H170.0M166.4,149.3H170.0M168.0,146.0H170.0M168.0,142.8H170.0M168.0,139.5H170.0M166.4,136.2H170.0M168.0,132.9H170.0M168.0,129.6H170.0M168.0,126.4H170.0M166.4,123.1H170.0M168.0,119.8H170.0M168.0,116.5H170.0M168.0,113.3H170.0M166.4,110.0H170.0M170.8,175.5V177.7M172.2,175.5V177.7M173.6,175.5V177.7M175.6,175.5V177.7M176.7,175.5V178.1M177.8,175.5V177.7M180.8,175.5V177.7M181.9,175.5V177.7M182.8,175.5V177.7M183.7,175.5V177.7M184.3,175.5V177.7M185.2,175.5V178.7M200.7,175.5V178.7M216.4,175.5V178.7M232.0,175.5V178.7M189.9,175.5V177.5M192.6,175.5V177.5M194.6,175.5V177.5M196.1,175.5V177.5M197.3,175.5V177.5M198.4,175.5V177.5M199.3,175.5V177.5M200.1,175.5V177.5M205.4,175.5V177.5M208.2,175.5V177.5M210.2,175.5V177.5M211.7,175.5V177.5M212.9,175.5V177.5M214.0,175.5V177.5M214.9,175.5V177.5M215.7,175.5V177.5M221.1,175.5V177.5M223.8,175.5V177.5M225.8,175.5V177.5M227.3,175.5V177.5M228.5,175.5V177.5M229.6,175.5V177.5M230.5,175.5V177.5M231.3,175.5V177.5M236.7,175.5V177.5" stroke="#1a1a1a" stroke-width="0.85" fill="none"/>
<path d="M170.0,107.0H238.3V175.5H170.0Z" fill="none" stroke="#262626" stroke-width="1"/>
<path d="M244.9,97.2H248.5M246.5,93.9H248.5M246.5,90.7H248.5M246.5,87.4H248.5M244.9,84.1H248.5M246.5,80.8H248.5M246.5,77.6H248.5M246.5,74.3H248.5M244.9,71.0H248.5M246.5,67.7H248.5M246.5,64.5H248.5M246.5,61.2H248.5M244.9,57.9H248.5M246.5,54.6H248.5M246.5,51.4H248.5M246.5,48.1H248.5M244.9,44.8H248.5M246.5,41.5H248.5M246.5,38.3H248.5M246.5,35.0H248.5M244.9,31.7H248.5M249.3,97.2V99.4M250.7,97.2V99.4M252.0,97.2V99.4M254.1,97.2V99.4M255.2,97.2V99.8M256.2,97.2V99.4M259.2,97.2V99.4M260.3,97.2V99.4M261.3,97.2V99.4M262.1,97.2V99.4M262.8,97.2V99.4M263.6,97.2V100.4M279.1,97.2V100.4M294.6,97.2V100.4M310.2,97.2V100.4M268.3,97.2V99.2M271.0,97.2V99.2M272.9,97.2V99.2M274.4,97.2V99.2M275.7,97.2V99.2M276.7,97.2V99.2M277.6,97.2V99.2M278.4,97.2V99.2M283.7,97.2V99.2M286.5,97.2V99.2M288.4,97.2V99.2M289.9,97.2V99.2M291.2,97.2V99.2M292.2,97.2V99.2M293.1,97.2V99.2M293.9,97.2V99.2M299.3,97.2V99.2M302.0,97.2V99.2M304.0,97.2V99.2M305.5,97.2V99.2M306.7,97.2V99.2M307.7,97.2V99.2M308.6,97.2V99.2M309.4,97.2V99.2M314.8,97.2V99.2" stroke="#1a1a1a" stroke-width="0.85" fill="none"/>
<path d="M248.5,28.4H316.4V97.2H248.5Z" fill="none" stroke="#262626" stroke-width="1"/>
<path d="M244.9,175.5H248.5M246.5,172.2H248.5M246.5,168.9H248.5M246.5,165.7H248.5M244.9,162.4H248.5M246.5,159.1H248.5M246.5,155.8H248.5M246.5,152.6H248.5M244.9,149.3H248.5M246.5,146.0H248.5M246.5,142.8H248.5M246.5,139.5H248.5M244.9,136.2H248.5M246.5,132.9H248.5M246.5,129.6H248.5M246.5,126.4H248.5M244.9,123.1H248.5M246.5,119.8H248.5M246.5,116.5H248.5M246.5,113.3H248.5M244.9,110.0H248.5M249.3,175.5V177.7M250.7,175.5V177.7M252.0,175.5V177.7M254.1,175.5V177.7M255.2,175.5V178.1M256.2,175.5V177.7M259.2,175.5V177.7M260.3,175.5V177.7M261.3,175.5V177.7M262.1,175.5V177.7M262.8,175.5V177.7M263.6,175.5V178.7M279.1,175.5V178.7M294.6,175.5V178.7M310.2,175.5V178.7M268.3,175.5V177.5M271.0,175.5V177.5M272.9,175.5V177.5M274.4,175.5V177.5M275.7,175.5V177.5M276.7,175.5V177.5M277.6,175.5V177.5M278.4,175.5V177.5M283.7,175.5V177.5M286.5,175.5V177.5M288.4,175.5V177.5M289.9,175.5V177.5M291.2,175.5V177.5M292.2,175.5V177.5M293.1,175.5V177.5M293.9,175.5V177.5M299.3,175.5V177.5M302.0,175.5V177.5M304.0,175.5V177.5M305.5,175.5V177.5M306.7,175.5V177.5M307.7,175.5V177.5M308.6,175.5V177.5M309.4,175.5V177.5M314.8,175.5V177.5" stroke="#1a1a1a" stroke-width="0.85" fill="none"/>
<path d="M248.5,107.0H316.4V175.5H248.5Z" fill="none" stroke="#262626" stroke-width="1"/>
<path d="M323.4,97.2H327.0M325.0,93.9H327.0M325.0,90.7H327.0M325.0,87.4H327.0M323.4,84.1H327.0M325.0,80.8H327.0M325.0,77.6H327.0M325.0,74.3H327.0M323.4,71.0H327.0M325.0,67.7H327.0M325.0,64.5H327.0M325.0,61.2H327.0M323.4,57.9H327.0M325.0,54.6H327.0M325.0,51.4H327.0M325.0,48.1H327.0M323.4,44.8H327.0M325.0,41.5H327.0M325.0,38.3H327.0M325.0,35.0H327.0M323.4,31.7H327.0M327.8,97.2V99.4M329.2,97.2V99.4M330.5,97.2V99.4M332.6,97.2V99.4M333.7,97.2V99.8M334.8,97.2V99.4M337.8,97.2V99.4M338.8,97.2V99.4M339.8,97.2V99.4M340.6,97.2V99.4M341.3,97.2V99.4M342.1,97.2V100.4M357.6,97.2V100.4M373.2,97.2V100.4M388.8,97.2V100.4M346.8,97.2V99.2M349.6,97.2V99.2M351.5,97.2V99.2M353.0,97.2V99.2M354.3,97.2V99.2M355.3,97.2V99.2M356.2,97.2V99.2M357.0,97.2V99.2M362.3,97.2V99.2M365.1,97.2V99.2M367.0,97.2V99.2M368.5,97.2V99.2M369.8,97.2V99.2M370.8,97.2V99.2M371.7,97.2V99.2M372.5,97.2V99.2M377.9,97.2V99.2M380.7,97.2V99.2M382.6,97.2V99.2M384.1,97.2V99.2M385.4,97.2V99.2M386.4,97.2V99.2M387.3,97.2V99.2M388.1,97.2V99.2M393.5,97.2V99.2" stroke="#1a1a1a" stroke-width="0.85" fill="none"/>
<path d="M327.0,28.4H395.1V97.2H327.0Z" fill="none" stroke="#262626" stroke-width="1"/>
<path d="M323.4,175.5H327.0M325.0,172.2H327.0M325.0,168.9H327.0M325.0,165.7H327.0M323.4,162.4H327.0M325.0,159.1H327.0M325.0,155.8H327.0M325.0,152.6H327.0M323.4,149.3H327.0M325.0,146.0H327.0M325.0,142.8H327.0M325.0,139.5H327.0M323.4,136.2H327.0M325.0,132.9H327.0M325.0,129.6H327.0M325.0,126.4H327.0M323.4,123.1H327.0M325.0,119.8H327.0M325.0,116.5H327.0M325.0,113.3H327.0M323.4,110.0H327.0M327.8,175.5V177.7M329.2,175.5V177.7M330.5,175.5V177.7M332.6,175.5V177.7M333.7,175.5V178.1M334.8,175.5V177.7M337.8,175.5V177.7M338.8,175.5V177.7M339.8,175.5V177.7M340.6,175.5V177.7M341.3,175.5V177.7M342.1,175.5V178.7M357.6,175.5V178.7M373.2,175.5V178.7M388.8,175.5V178.7M346.8,175.5V177.5M349.6,175.5V177.5M351.5,175.5V177.5M353.0,175.5V177.5M354.3,175.5V177.5M355.3,175.5V177.5M356.2,175.5V177.5M357.0,175.5V177.5M362.3,175.5V177.5M365.1,175.5V177.5M367.0,175.5V177.5M368.5,175.5V177.5M369.8,175.5V177.5M370.8,175.5V177.5M371.7,175.5V177.5M372.5,175.5V177.5M377.9,175.5V177.5M380.7,175.5V177.5M382.6,175.5V177.5M384.1,175.5V177.5M385.4,175.5V177.5M386.4,175.5V177.5M387.3,175.5V177.5M388.1,175.5V177.5M393.5,175.5V177.5" stroke="#1a1a1a" stroke-width="0.85" fill="none"/>
<path d="M327.0,107.0H395.1V175.5H327.0Z" fill="none" stroke="#262626" stroke-width="1"/>
<path d="M401.9,97.2H405.5M403.5,93.9H405.5M403.5,90.7H405.5M403.5,87.4H405.5M401.9,84.1H405.5M403.5,80.8H405.5M403.5,77.6H405.5M403.5,74.3H405.5M401.9,71.0H405.5M403.5,67.7H405.5M403.5,64.5H405.5M403.5,61.2H405.5M401.9,57.9H405.5M403.5,54.6H405.5M403.5,51.4H405.5M403.5,48.1H405.5M401.9,44.8H405.5M403.5,41.5H405.5M403.5,38.3H405.5M403.5,35.0H405.5M401.9,31.7H405.5M406.3,97.2V99.4M407.7,97.2V99.4M409.0,97.2V99.4M411.1,97.2V99.4M412.2,97.2V99.8M413.3,97.2V99.4M416.2,97.2V99.4M417.3,97.2V99.4M418.3,97.2V99.4M419.1,97.2V99.4M419.8,97.2V99.4M420.6,97.2V100.4M436.1,97.2V100.4M451.7,97.2V100.4M467.2,97.2V100.4M425.3,97.2V99.2M428.0,97.2V99.2M430.0,97.2V99.2M431.5,97.2V99.2M432.7,97.2V99.2M433.8,97.2V99.2M434.7,97.2V99.2M435.5,97.2V99.2M440.8,97.2V99.2M443.5,97.2V99.2M445.5,97.2V99.2M447.0,97.2V99.2M448.2,97.2V99.2M449.3,97.2V99.2M450.2,97.2V99.2M451.0,97.2V99.2M456.4,97.2V99.2M459.1,97.2V99.2M461.0,97.2V99.2M462.6,97.2V99.2M463.8,97.2V99.2M464.8,97.2V99.2M465.7,97.2V99.2M466.5,97.2V99.2M471.9,97.2V99.2" stroke="#1a1a1a" stroke-width="0.85" fill="none"/>
<path d="M405.5,28.4H473.5V97.2H405.5Z" fill="none" stroke="#262626" stroke-width="1"/>
<path d="M401.9,175.5H405.5M403.5,172.2H405.5M403.5,168.9H405.5M403.5,165.7H405.5M401.9,162.4H405.5M403.5,159.1H405.5M403.5,155.8H405.5M403.5,152.6H405.5M401.9,149.3H405.5M403.5,146.0H405.5M403.5,142.8H405.5M403.5,139.5H405.5M401.9,136.2H405.5M403.5,132.9H405.5M403.5,129.6H405.5M403.5,126.4H405.5M401.9,123.1H405.5M403.5,119.8H405.5M403.5,116.5H405.5M403.5,113.3H405.5M401.9,110.0H405.5M406.3,175.5V177.7M407.7,175.5V177.7M409.0,175.5V177.7M411.1,175.5V177.7M412.2,175.5V178.1M413.3,175.5V177.7M416.2,175.5V177.7M417.3,175.5V177.7M418.3,175.5V177.7M419.1,175.5V177.7M419.8,175.5V177.7M420.6,175.5V178.7M436.1,175.5V178.7M451.7,175.5V178.7M467.2,175.5V178.7M425.3,175.5V177.5M428.0,175.5V177.5M430.0,175.5V177.5M431.5,175.5V177.5M432.7,175.5V177.5M433.8,175.5V177.5M434.7,175.5V177.5M435.5,175.5V177.5M440.8,175.5V177.5M443.5,175.5V177.5M445.5,175.5V177.5M447.0,175.5V177.5M448.2,175.5V177.5M449.3,175.5V177.5M450.2,175.5V177.5M451.0,175.5V177.5M456.4,175.5V177.5M459.1,175.5V177.5M461.0,175.5V177.5M462.6,175.5V177.5M463.8,175.5V177.5M464.8,175.5V177.5M465.7,175.5V177.5M466.5,175.5V177.5M471.9,175.5V177.5" stroke="#1a1a1a" stroke-width="0.85" fill="none"/>
<path d="M405.5,107.0H473.5V175.5H405.5Z" fill="none" stroke="#262626" stroke-width="1"/>
<text transform="translate(76.80,38.80) scale(0.860,1)" font-size="8.20" fill="#a8364a" text-anchor="end">44</text>
<text transform="translate(76.80,47.60) scale(0.860,1)" font-size="8.20" fill="#4a6b9b" text-anchor="end">837</text>
<text transform="translate(76.80,117.80) scale(0.860,1)" font-size="8.20" fill="#7fae62" text-anchor="end">35</text>
<text transform="translate(76.80,126.70) scale(0.860,1)" font-size="8.20" fill="#6c3d78" text-anchor="end">671</text>
<text transform="translate(154.30,38.80) scale(0.860,1)" font-size="8.20" fill="#a8364a" text-anchor="end">110</text>
<text transform="translate(154.30,47.60) scale(0.860,1)" font-size="8.20" fill="#4a6b9b" text-anchor="end">643</text>
<text transform="translate(154.30,117.80) scale(0.860,1)" font-size="8.20" fill="#7fae62" text-anchor="end">140</text>
<text transform="translate(154.30,126.70) scale(0.860,1)" font-size="8.20" fill="#6c3d78" text-anchor="end">747</text>
<text transform="translate(233.10,38.80) scale(0.860,1)" font-size="8.20" fill="#a8364a" text-anchor="end">40</text>
<text transform="translate(233.10,47.60) scale(0.860,1)" font-size="8.20" fill="#4a6b9b" text-anchor="end">137</text>
<text transform="translate(233.10,117.80) scale(0.860,1)" font-size="8.20" fill="#7fae62" text-anchor="end">43</text>
<text transform="translate(233.10,126.70) scale(0.860,1)" font-size="8.20" fill="#6c3d78" text-anchor="end">164</text>
<text transform="translate(311.90,38.80) scale(0.860,1)" font-size="8.20" fill="#a8364a" text-anchor="end">55</text>
<text transform="translate(311.90,47.60) scale(0.860,1)" font-size="8.20" fill="#4a6b9b" text-anchor="end">143</text>
<text transform="translate(311.90,117.80) scale(0.860,1)" font-size="8.20" fill="#7fae62" text-anchor="end">57</text>
<text transform="translate(311.90,126.70) scale(0.860,1)" font-size="8.20" fill="#6c3d78" text-anchor="end">185</text>
<text transform="translate(390.00,38.80) scale(0.860,1)" font-size="8.20" fill="#a8364a" text-anchor="end">39</text>
<text transform="translate(390.00,47.60) scale(0.860,1)" font-size="8.20" fill="#4a6b9b" text-anchor="end">194</text>
<text transform="translate(390.00,117.80) scale(0.860,1)" font-size="8.20" fill="#7fae62" text-anchor="end">42</text>
<text transform="translate(390.00,126.70) scale(0.860,1)" font-size="8.20" fill="#6c3d78" text-anchor="end">236</text>
<text transform="translate(469.10,38.80) scale(0.860,1)" font-size="8.20" fill="#a8364a" text-anchor="end">64</text>
<text transform="translate(469.10,47.60) scale(0.860,1)" font-size="8.20" fill="#4a6b9b" text-anchor="end">636</text>
<text transform="translate(469.10,117.80) scale(0.860,1)" font-size="8.20" fill="#7fae62" text-anchor="end">63</text>
<text transform="translate(469.10,126.70) scale(0.860,1)" font-size="8.20" fill="#6c3d78" text-anchor="end">730</text>
<text transform="translate(47.15,22.70) scale(0.770,1)" font-size="11.00" fill="#151515" text-anchor="middle">B220</text>
<text transform="translate(125.30,22.70) scale(0.770,1)" font-size="11.00" fill="#151515" text-anchor="middle">CD11c</text>
<text transform="translate(204.15,22.70) scale(0.770,1)" font-size="11.00" fill="#151515" text-anchor="middle">TCR</text>
<text transform="translate(282.45,22.70) scale(0.770,1)" font-size="11.00" fill="#151515" text-anchor="middle">CD4</text>
<text transform="translate(361.05,22.70) scale(0.770,1)" font-size="11.00" fill="#151515" text-anchor="middle">CD8</text>
<text transform="translate(439.50,22.70) scale(0.770,1)" font-size="11.00" fill="#151515" text-anchor="middle">NK1.1</text>
<text x="6.00" y="15.50" font-size="10.60" fill="#151515" text-anchor="start">A</text>
<rect x="478" y="53.7" width="7" height="6.3" fill="#9f3545"/>
<rect x="478.5" y="66" width="6" height="5.6" fill="#fff" stroke="#46689a" stroke-width="1"/>
<text x="487.80" y="59.20" font-size="7.00" fill="#151515" text-anchor="start">No Ag</text>
<text transform="translate(487.80,71.50) scale(0.920,1)" font-size="7.00" fill="#151515" text-anchor="start">PBS44</text>
<rect x="478" y="132.2" width="7" height="6.3" fill="#7aaa5e"/>
<rect x="478.5" y="145" width="6" height="5.6" fill="#fff" stroke="#6c3d78" stroke-width="1"/>
<text x="487.80" y="138.20" font-size="7.00" fill="#151515" text-anchor="start">ULFP</text>
<text x="487.80" y="149.80" font-size="7.00" fill="#151515" text-anchor="start">LFP</text>
<path d="M12,183.5H469" stroke="#6a6a6a" stroke-width="1.4"/>
<path d="M474.3,183.5L466.8,180.5L468.4,183.5L466.8,186.5Z" fill="#111"/>
<text transform="translate(242.70,198.90) scale(0.775,1)" font-size="11.00" fill="#151515" text-anchor="middle">CD69</text>
<path d="M11.00,304.40 C11.45,304.50 12.89,304.86 13.80,305.00 C14.71,305.14 15.79,305.28 16.70,305.30 C17.61,305.32 18.59,305.24 19.50,305.10 C20.41,304.96 21.47,304.69 22.40,304.40 C23.33,304.11 24.47,303.67 25.30,303.30 C26.13,302.93 26.86,302.58 27.60,302.10 C28.34,301.62 29.24,300.86 29.90,300.30 C30.56,299.74 31.24,299.14 31.70,298.60 C32.16,298.06 32.43,297.54 32.80,296.90 C33.17,296.26 33.62,295.62 34.00,294.60 C34.38,293.58 34.82,292.13 35.20,290.50 C35.58,288.87 35.97,286.58 36.40,284.40 C36.83,282.22 37.45,279.17 37.90,276.90 C38.35,274.63 38.78,272.49 39.20,270.20 C39.62,267.91 40.08,264.89 40.50,262.60 C40.92,260.31 41.40,257.88 41.80,255.90 C42.20,253.92 42.58,251.80 43.00,250.20 C43.42,248.60 44.02,246.78 44.40,245.90 C44.78,245.02 45.08,244.44 45.40,244.70 C45.72,244.96 46.11,246.38 46.40,247.50 C46.69,248.62 46.94,249.96 47.20,251.70 C47.46,253.44 47.73,255.98 48.00,258.40 C48.27,260.82 48.63,264.11 48.90,266.80 C49.17,269.49 49.41,272.51 49.70,275.20 C49.99,277.89 50.35,281.06 50.70,283.60 C51.05,286.14 51.52,288.96 51.90,291.10 C52.28,293.24 52.64,295.26 53.10,297.00 C53.56,298.74 54.21,300.67 54.80,302.00 C55.39,303.33 56.14,304.50 56.80,305.30 C57.46,306.10 58.02,306.60 58.90,307.00 C59.78,307.40 61.16,307.54 62.30,307.80 C63.44,308.06 65.41,308.47 66.00,308.60 L66.00,308.80 L11.00,308.80 Z" fill="#9f3545" stroke="#8e2236" stroke-width="0.5"/>
<path d="M11.00,307.60 C11.91,307.62 14.88,307.73 16.70,307.70 C18.52,307.67 20.83,307.56 22.40,307.40 C23.97,307.24 25.30,307.00 26.50,306.70 C27.70,306.40 28.89,305.96 29.90,305.50 C30.91,305.04 31.97,304.44 32.80,303.80 C33.63,303.16 34.44,302.24 35.10,301.50 C35.76,300.76 36.40,300.03 36.90,299.20 C37.40,298.37 37.72,297.93 38.20,296.30 C38.68,294.67 39.39,291.85 39.90,289.00 C40.41,286.15 40.90,282.32 41.40,278.50 C41.90,274.68 42.47,268.84 43.00,265.10 C43.53,261.36 44.22,257.77 44.70,255.10 C45.18,252.43 45.60,250.02 46.00,248.40 C46.40,246.78 46.82,245.67 47.20,245.00 C47.58,244.33 48.05,244.06 48.40,244.20 C48.75,244.34 49.05,244.96 49.40,245.90 C49.75,246.84 50.23,248.10 50.60,250.10 C50.97,252.10 51.30,255.18 51.70,258.40 C52.10,261.62 52.67,266.44 53.10,270.20 C53.53,273.96 53.97,278.56 54.40,281.90 C54.83,285.24 55.34,288.56 55.80,291.10 C56.26,293.64 56.80,295.93 57.30,297.80 C57.80,299.67 58.29,301.54 58.90,302.80 C59.51,304.06 60.28,304.98 61.10,305.70 C61.92,306.42 62.86,306.95 64.00,307.30 C65.14,307.65 65.88,307.76 68.20,307.90 C70.52,308.04 76.85,308.15 78.50,308.20" fill="none" stroke="#46689a" stroke-width="1.00" stroke-linejoin="round"/>
<path d="M11.00,381.20 C11.45,381.34 12.89,381.91 13.80,382.10 C14.71,382.29 15.79,382.37 16.70,382.40 C17.61,382.43 18.59,382.41 19.50,382.30 C20.41,382.19 21.47,381.96 22.40,381.70 C23.33,381.44 24.47,381.10 25.30,380.70 C26.13,380.30 26.94,379.71 27.60,379.20 C28.26,378.69 28.89,378.09 29.40,377.50 C29.91,376.91 30.40,376.22 30.80,375.50 C31.20,374.78 31.55,373.83 31.90,373.00 C32.25,372.17 32.58,371.32 33.00,370.30 C33.42,369.28 34.00,368.14 34.50,366.60 C35.00,365.06 35.57,362.84 36.10,360.70 C36.63,358.56 37.30,355.47 37.80,353.20 C38.30,350.93 38.77,348.79 39.20,346.50 C39.63,344.21 40.08,341.19 40.50,338.90 C40.92,336.61 41.40,334.18 41.80,332.20 C42.20,330.22 42.65,327.97 43.00,326.50 C43.35,325.03 43.73,323.59 44.00,323.00 C44.27,322.41 44.46,322.53 44.70,322.80 C44.94,323.07 45.23,323.60 45.50,324.70 C45.77,325.80 46.13,327.83 46.40,329.70 C46.67,331.57 46.94,333.98 47.20,336.40 C47.46,338.82 47.70,341.84 48.00,344.80 C48.30,347.76 48.76,351.96 49.10,354.90 C49.44,357.84 49.73,360.53 50.10,363.20 C50.47,365.87 50.92,369.18 51.40,371.60 C51.88,374.02 52.56,376.56 53.10,378.30 C53.64,380.04 54.21,381.48 54.80,382.50 C55.39,383.52 56.00,384.17 56.80,384.70 C57.60,385.23 58.81,385.50 59.80,385.80 C60.79,386.10 62.49,386.47 63.00,386.60 L63.00,386.60 L11.00,386.60 Z" fill="#7aaa5e"/>
<path d="M11.00,384.40 C11.91,384.46 14.88,384.80 16.70,384.80 C18.52,384.80 20.83,384.64 22.40,384.40 C23.97,384.16 25.30,383.76 26.50,383.30 C27.70,382.84 28.99,382.11 29.90,381.50 C30.81,380.89 31.50,380.19 32.20,379.50 C32.90,378.81 33.74,377.94 34.30,377.20 C34.86,376.46 35.28,375.64 35.70,374.90 C36.12,374.16 36.50,373.56 36.90,372.60 C37.30,371.64 37.69,370.84 38.20,368.90 C38.71,366.96 39.56,363.60 40.10,360.50 C40.64,357.40 41.14,353.18 41.60,349.50 C42.06,345.82 42.55,340.80 43.00,337.50 C43.45,334.20 43.97,330.95 44.40,328.90 C44.83,326.85 45.30,325.69 45.70,324.70 C46.10,323.71 46.53,322.97 46.90,322.70 C47.27,322.43 47.65,322.55 48.00,323.00 C48.35,323.45 48.76,324.16 49.10,325.50 C49.44,326.84 49.73,328.84 50.10,331.40 C50.47,333.96 50.98,338.01 51.40,341.50 C51.82,344.99 52.27,349.58 52.70,353.20 C53.13,356.82 53.64,361.03 54.10,364.10 C54.56,367.17 55.09,370.13 55.60,372.40 C56.11,374.67 56.69,376.68 57.30,378.30 C57.91,379.92 58.60,381.43 59.40,382.50 C60.20,383.57 61.31,384.47 62.30,385.00 C63.29,385.53 63.01,385.61 65.60,385.80 C68.19,385.99 76.44,386.14 78.50,386.20" fill="none" stroke="#6c3d78" stroke-width="1.00" stroke-linejoin="round"/>
<path d="M124.00,308.80 C124.51,308.64 126.29,308.22 127.20,307.80 C128.11,307.38 129.03,306.92 129.70,306.20 C130.37,305.48 130.86,304.64 131.40,303.30 C131.94,301.96 132.62,299.88 133.10,297.80 C133.58,295.72 134.00,292.84 134.40,290.30 C134.80,287.76 135.22,284.72 135.60,281.90 C135.98,279.08 136.45,275.64 136.80,272.70 C137.15,269.76 137.46,266.32 137.80,263.50 C138.14,260.68 138.53,257.39 138.90,255.10 C139.27,252.81 139.68,250.67 140.10,249.20 C140.52,247.73 141.10,246.57 141.50,245.90 C141.90,245.23 142.28,245.00 142.60,245.00 C142.92,245.00 143.23,245.23 143.50,245.90 C143.77,246.57 144.04,247.73 144.30,249.20 C144.56,250.67 144.81,252.68 145.10,255.10 C145.39,257.52 145.78,261.08 146.10,264.30 C146.42,267.52 146.76,271.86 147.10,275.20 C147.44,278.54 147.86,282.26 148.20,285.20 C148.54,288.14 148.88,291.18 149.20,293.60 C149.52,296.02 149.83,298.43 150.20,300.30 C150.57,302.17 151.02,304.18 151.50,305.30 C151.98,306.42 152.56,306.74 153.20,307.30 C153.84,307.86 155.13,308.56 155.50,308.80 L155.50,308.80 L124.00,308.80 Z" fill="#9f3545" stroke="#8e2236" stroke-width="0.5"/>
<path d="M118.00,308.30 C119.62,308.22 125.96,308.01 128.10,307.80 C130.24,307.59 130.47,307.40 131.40,307.00 C132.33,306.60 133.15,306.10 133.90,305.30 C134.65,304.50 135.48,303.33 136.10,302.00 C136.72,300.67 137.32,298.87 137.80,297.00 C138.28,295.13 138.70,292.99 139.10,290.30 C139.50,287.61 139.92,283.69 140.30,280.20 C140.68,276.71 141.15,272.24 141.50,268.50 C141.85,264.76 142.21,260.02 142.50,256.80 C142.79,253.58 143.04,250.34 143.30,248.40 C143.56,246.46 143.86,245.24 144.10,244.70 C144.34,244.16 144.56,244.28 144.80,245.00 C145.04,245.72 145.33,247.31 145.60,249.20 C145.87,251.09 146.20,253.71 146.50,256.80 C146.80,259.89 147.18,264.76 147.50,268.50 C147.82,272.24 148.18,276.71 148.50,280.20 C148.82,283.69 149.15,287.36 149.50,290.30 C149.85,293.24 150.30,296.33 150.70,298.60 C151.10,300.87 151.55,303.16 152.00,304.50 C152.45,305.84 152.91,306.46 153.50,307.00 C154.09,307.54 155.14,307.71 155.70,307.90 C156.26,308.09 156.79,308.15 157.00,308.20" fill="none" stroke="#46689a" stroke-width="1.00" stroke-linejoin="round"/>
<path d="M123.00,386.60 C123.54,386.47 125.46,386.18 126.40,385.80 C127.34,385.42 128.15,384.92 128.90,384.20 C129.65,383.48 130.49,382.64 131.10,381.30 C131.71,379.96 132.22,377.88 132.70,375.80 C133.18,373.72 133.67,370.99 134.10,368.30 C134.53,365.61 135.00,361.96 135.40,359.00 C135.80,356.04 136.22,352.74 136.60,349.80 C136.98,346.86 137.43,343.42 137.80,340.60 C138.17,337.78 138.53,334.47 138.90,332.20 C139.27,329.93 139.68,327.81 140.10,326.40 C140.52,324.99 141.10,323.99 141.50,323.40 C141.90,322.81 142.28,322.62 142.60,322.70 C142.92,322.78 143.23,323.04 143.50,323.90 C143.77,324.76 144.04,326.36 144.30,328.10 C144.56,329.84 144.81,332.13 145.10,334.80 C145.39,337.47 145.78,341.46 146.10,344.80 C146.42,348.14 146.76,352.36 147.10,355.70 C147.44,359.04 147.86,362.88 148.20,365.70 C148.54,368.52 148.88,371.16 149.20,373.30 C149.52,375.44 149.83,377.50 150.20,379.10 C150.57,380.70 151.02,382.31 151.50,383.30 C151.98,384.29 152.56,384.77 153.20,385.30 C153.84,385.83 155.13,386.39 155.50,386.60 L155.50,386.60 L123.00,386.60 Z" fill="#7aaa5e"/>
<path d="M118.00,386.20 C119.62,386.14 125.96,385.99 128.10,385.80 C130.24,385.61 130.47,385.40 131.40,385.00 C132.33,384.60 133.15,384.05 133.90,383.30 C134.65,382.55 135.48,381.50 136.10,380.30 C136.72,379.10 137.32,377.59 137.80,375.80 C138.28,374.01 138.70,371.79 139.10,369.10 C139.50,366.41 139.92,362.62 140.30,359.00 C140.68,355.38 141.15,350.37 141.50,346.50 C141.85,342.63 142.21,337.89 142.50,334.80 C142.79,331.71 143.04,329.10 143.30,327.20 C143.56,325.30 143.86,323.59 144.10,322.90 C144.34,322.21 144.56,322.21 144.80,322.90 C145.04,323.59 145.33,325.30 145.60,327.20 C145.87,329.10 146.20,331.71 146.50,334.80 C146.80,337.89 147.18,342.76 147.50,346.50 C147.82,350.24 148.18,354.71 148.50,358.20 C148.82,361.69 149.15,365.36 149.50,368.30 C149.85,371.24 150.30,374.33 150.70,376.60 C151.10,378.87 151.55,381.16 152.00,382.50 C152.45,383.84 152.91,384.47 153.50,385.00 C154.09,385.53 155.14,385.61 155.70,385.80 C156.26,385.99 156.79,386.14 157.00,386.20" fill="none" stroke="#6c3d78" stroke-width="1.00" stroke-linejoin="round"/>
<path d="M180.80,306.40 C181.28,306.50 182.86,306.86 183.80,307.00 C184.74,307.14 185.79,307.28 186.70,307.30 C187.61,307.32 188.59,307.20 189.50,307.10 C190.41,307.00 191.47,306.86 192.40,306.70 C193.33,306.54 194.47,306.34 195.30,306.10 C196.13,305.86 196.86,305.52 197.60,305.20 C198.34,304.88 199.16,304.56 199.90,304.10 C200.64,303.64 201.54,302.86 202.20,302.30 C202.86,301.74 203.44,301.24 204.00,300.60 C204.56,299.96 205.24,299.12 205.70,298.30 C206.16,297.48 206.55,296.83 206.90,295.50 C207.25,294.17 207.50,292.00 207.90,290.00 C208.30,288.00 208.95,285.40 209.40,283.00 C209.85,280.60 210.30,277.64 210.70,275.00 C211.10,272.36 211.53,269.14 211.90,266.50 C212.27,263.86 212.60,260.82 213.00,258.50 C213.40,256.18 214.02,253.62 214.40,252.00 C214.78,250.38 215.14,249.52 215.40,248.40 C215.66,247.28 215.79,245.27 216.00,245.00 C216.21,244.73 216.48,246.83 216.70,246.70 C216.92,246.57 217.18,244.07 217.40,244.20 C217.62,244.33 217.89,246.56 218.10,247.50 C218.31,248.44 218.49,249.16 218.70,250.10 C218.91,251.04 219.16,252.07 219.40,253.40 C219.64,254.73 219.93,256.53 220.20,258.40 C220.47,260.27 220.83,262.81 221.10,265.10 C221.37,267.39 221.63,270.28 221.90,272.70 C222.17,275.12 222.50,277.66 222.80,280.20 C223.10,282.74 223.48,286.18 223.80,288.60 C224.12,291.02 224.43,293.30 224.80,295.30 C225.17,297.30 225.62,299.55 226.10,301.10 C226.58,302.65 227.13,304.06 227.80,305.00 C228.47,305.94 229.37,306.55 230.30,307.00 C231.23,307.45 232.53,307.51 233.60,307.80 C234.67,308.09 236.46,308.64 237.00,308.80 L237.00,308.80 L180.80,308.80 Z" fill="#9f3545" stroke="#8e2236" stroke-width="0.5"/>
<path d="M180.80,308.10 C182.19,308.12 187.18,308.25 189.50,308.20 C191.82,308.15 193.64,307.99 195.30,307.80 C196.96,307.61 198.70,307.32 199.90,307.00 C201.10,306.68 201.97,306.17 202.80,305.80 C203.63,305.43 204.44,305.07 205.10,304.70 C205.76,304.33 206.39,303.96 206.90,303.50 C207.41,303.04 207.87,302.52 208.30,301.80 C208.73,301.08 209.18,300.06 209.60,299.00 C210.02,297.94 210.40,296.72 210.90,295.20 C211.40,293.68 212.14,291.69 212.70,289.50 C213.26,287.31 213.92,284.22 214.40,281.50 C214.88,278.78 215.27,275.38 215.70,272.50 C216.13,269.62 216.67,266.16 217.10,263.50 C217.53,260.84 217.98,258.04 218.40,255.90 C218.82,253.76 219.27,251.70 219.70,250.10 C220.13,248.50 220.70,246.84 221.10,245.90 C221.50,244.96 221.83,244.47 222.20,244.20 C222.57,243.93 223.05,243.93 223.40,244.20 C223.75,244.47 224.08,244.96 224.40,245.90 C224.72,246.84 225.08,248.36 225.40,250.10 C225.72,251.84 226.02,254.13 226.40,256.80 C226.78,259.47 227.37,263.33 227.80,266.80 C228.23,270.27 228.67,275.01 229.10,278.50 C229.53,281.99 230.04,285.64 230.50,288.60 C230.96,291.56 231.50,294.73 232.00,297.00 C232.50,299.27 233.07,301.33 233.60,302.80 C234.13,304.27 234.63,305.40 235.30,306.20 C235.97,307.00 235.77,307.48 237.80,307.80 C239.83,308.12 246.37,308.14 248.00,308.20" fill="none" stroke="#46689a" stroke-width="1.00" stroke-linejoin="round"/>
<path d="M180.80,384.70 C181.74,384.75 184.96,385.08 186.70,385.00 C188.44,384.92 190.23,384.52 191.70,384.20 C193.17,383.88 194.68,383.46 195.90,383.00 C197.12,382.54 198.23,382.05 199.30,381.30 C200.37,380.55 201.67,379.37 202.60,378.30 C203.53,377.23 204.46,375.93 205.10,374.60 C205.74,373.27 206.15,371.62 206.60,370.00 C207.05,368.38 207.45,366.74 207.90,364.50 C208.35,362.26 208.90,359.04 209.40,356.00 C209.90,352.96 210.52,348.49 211.00,345.50 C211.48,342.51 212.00,339.56 212.40,337.30 C212.80,335.04 213.13,333.02 213.50,331.40 C213.87,329.78 214.35,328.22 214.70,327.20 C215.05,326.18 215.38,325.53 215.70,325.00 C216.02,324.47 216.43,324.00 216.70,323.90 C216.97,323.80 217.18,324.14 217.40,324.40 C217.62,324.66 217.83,324.65 218.10,325.50 C218.37,326.35 218.78,327.96 219.10,329.70 C219.42,331.44 219.78,333.98 220.10,336.40 C220.42,338.82 220.78,341.84 221.10,344.80 C221.42,347.76 221.78,351.68 222.10,354.90 C222.42,358.12 222.78,362.10 223.10,364.90 C223.42,367.70 223.75,370.26 224.10,372.40 C224.45,374.54 224.85,376.68 225.30,378.30 C225.75,379.92 226.23,381.48 226.90,382.50 C227.57,383.52 228.56,384.17 229.50,384.70 C230.44,385.23 231.76,385.50 232.80,385.80 C233.84,386.10 235.49,386.47 236.00,386.60 L236.00,386.60 L180.80,386.60 Z" fill="#7aaa5e"/>
<path d="M180.80,385.30 C182.02,385.38 186.11,385.80 188.40,385.80 C190.69,385.80 193.23,385.56 195.10,385.30 C196.97,385.04 198.63,384.65 200.10,384.20 C201.57,383.75 203.20,383.25 204.30,382.50 C205.40,381.75 206.22,380.78 207.00,379.50 C207.78,378.22 208.53,376.37 209.20,374.50 C209.87,372.63 210.62,369.96 211.20,367.80 C211.78,365.64 212.29,363.34 212.80,361.00 C213.31,358.66 213.87,356.06 214.40,353.20 C214.93,350.34 215.57,346.19 216.10,343.10 C216.63,340.01 217.17,336.44 217.70,333.90 C218.23,331.36 218.92,328.72 219.40,327.20 C219.88,325.68 220.30,325.07 220.70,324.40 C221.10,323.73 221.56,323.16 221.90,323.00 C222.24,322.84 222.50,323.00 222.80,323.40 C223.10,323.80 223.48,324.49 223.80,325.50 C224.12,326.51 224.43,327.68 224.80,329.70 C225.17,331.72 225.68,335.14 226.10,338.10 C226.52,341.06 226.97,344.98 227.40,348.20 C227.83,351.42 228.34,354.98 228.80,358.20 C229.26,361.42 229.79,365.48 230.30,368.30 C230.81,371.12 231.47,373.80 232.00,375.80 C232.53,377.80 232.99,379.46 233.60,380.80 C234.21,382.14 234.98,383.40 235.80,384.20 C236.62,385.00 236.75,385.48 238.70,385.80 C240.65,386.12 246.51,386.14 248.00,386.20" fill="none" stroke="#6c3d78" stroke-width="1.00" stroke-linejoin="round"/>
<path d="M258.80,307.00 C259.74,307.05 262.96,307.30 264.70,307.30 C266.44,307.30 268.36,307.13 269.70,307.00 C271.04,306.87 272.03,306.77 273.10,306.50 C274.17,306.23 275.30,305.86 276.40,305.30 C277.50,304.74 278.90,303.70 280.00,303.00 C281.10,302.30 282.26,301.43 283.30,300.90 C284.34,300.37 285.46,299.97 286.50,299.70 C287.54,299.43 288.76,299.38 289.80,299.20 C290.84,299.02 291.96,299.03 293.00,298.60 C294.04,298.17 295.39,297.28 296.30,296.50 C297.21,295.72 297.93,294.74 298.70,293.70 C299.47,292.66 300.32,291.38 301.10,290.00 C301.88,288.62 302.86,286.80 303.60,285.10 C304.34,283.40 305.11,281.22 305.70,279.40 C306.29,277.58 306.79,275.78 307.30,273.70 C307.81,271.62 308.37,268.74 308.90,266.40 C309.43,264.06 310.15,261.18 310.60,259.10 C311.05,257.02 311.35,255.10 311.70,253.40 C312.05,251.70 312.46,249.75 312.80,248.50 C313.14,247.25 313.51,246.18 313.80,245.60 C314.09,245.02 314.34,244.69 314.60,244.90 C314.86,245.11 315.13,245.80 315.40,246.90 C315.67,248.00 316.03,249.46 316.30,251.80 C316.57,254.14 316.84,257.87 317.10,261.50 C317.36,265.13 317.64,270.34 317.90,274.50 C318.16,278.66 318.44,283.85 318.70,287.50 C318.96,291.15 319.20,294.79 319.50,297.30 C319.80,299.81 320.20,301.73 320.60,303.20 C321.00,304.67 321.49,305.73 322.00,306.50 C322.51,307.27 323.24,307.63 323.80,308.00 C324.36,308.37 325.23,308.67 325.50,308.80 L325.50,308.80 L258.80,308.80 Z" fill="#9f3545" stroke="#8e2236" stroke-width="0.5"/>
<path d="M258.80,307.80 C261.36,307.80 271.41,308.06 274.80,307.80 C278.19,307.54 278.13,306.58 280.00,306.20 C281.87,305.82 284.42,305.74 286.50,305.40 C288.58,305.06 291.18,304.56 293.00,304.10 C294.82,303.64 296.60,303.12 297.90,302.50 C299.20,301.88 300.06,301.16 301.10,300.20 C302.14,299.24 303.49,297.88 304.40,296.50 C305.31,295.12 306.08,293.42 306.80,291.60 C307.52,289.78 308.24,287.58 308.90,285.10 C309.56,282.62 310.32,279.09 310.90,276.10 C311.48,273.11 312.04,269.52 312.50,266.40 C312.96,263.28 313.43,259.34 313.80,256.60 C314.17,253.86 314.48,251.11 314.80,249.30 C315.12,247.49 315.50,246.08 315.80,245.30 C316.10,244.52 316.40,244.02 316.70,244.40 C317.00,244.78 317.38,246.00 317.70,247.70 C318.02,249.40 318.38,252.01 318.70,255.00 C319.02,257.99 319.41,262.37 319.70,266.40 C319.99,270.43 320.21,276.12 320.50,280.20 C320.79,284.28 321.15,288.68 321.50,291.90 C321.85,295.12 322.25,298.01 322.70,300.30 C323.15,302.59 323.77,305.00 324.30,306.20 C324.83,307.40 325.57,307.48 326.00,307.80 C326.43,308.12 326.84,308.14 327.00,308.20" fill="none" stroke="#46689a" stroke-width="1.00" stroke-linejoin="round"/>
<path d="M258.80,385.80 C260.82,385.80 268.58,385.93 271.40,385.80 C274.22,385.67 275.02,385.61 276.40,385.00 C277.78,384.39 278.90,382.72 280.00,382.00 C281.10,381.28 282.26,380.93 283.30,380.50 C284.34,380.07 285.46,379.56 286.50,379.30 C287.54,379.04 288.76,379.08 289.80,378.90 C290.84,378.72 291.96,378.57 293.00,378.20 C294.04,377.83 295.39,377.19 296.30,376.60 C297.21,376.01 297.93,375.36 298.70,374.50 C299.47,373.64 300.32,372.37 301.10,371.20 C301.88,370.03 302.86,368.62 303.60,367.20 C304.34,365.78 305.11,363.87 305.70,362.30 C306.29,360.73 306.79,359.22 307.30,357.40 C307.81,355.58 308.44,352.98 308.90,350.90 C309.36,348.82 309.80,346.48 310.20,344.40 C310.60,342.32 311.03,339.98 311.40,337.90 C311.77,335.82 312.20,333.22 312.50,331.40 C312.80,329.58 313.04,327.67 313.30,326.50 C313.56,325.33 313.83,324.56 314.10,324.10 C314.37,323.64 314.73,323.47 315.00,323.60 C315.27,323.73 315.54,323.65 315.80,324.90 C316.06,326.15 316.34,328.54 316.60,331.40 C316.86,334.26 317.14,338.90 317.40,342.80 C317.66,346.70 317.94,351.64 318.20,355.80 C318.46,359.96 318.71,365.17 319.00,368.80 C319.29,372.43 319.63,376.15 320.00,378.50 C320.37,380.85 320.85,382.38 321.30,383.50 C321.75,384.62 322.29,385.00 322.80,385.50 C323.31,386.00 324.23,386.42 324.50,386.60 L324.50,386.60 L258.80,386.60 Z" fill="#7aaa5e"/>
<path d="M258.80,385.80 C262.19,385.67 275.57,385.34 280.00,385.00 C284.43,384.66 284.42,384.08 286.50,383.70 C288.58,383.32 291.18,382.95 293.00,382.60 C294.82,382.25 296.60,382.03 297.90,381.50 C299.20,380.97 300.19,380.16 301.10,379.30 C302.01,378.44 302.86,377.40 303.60,376.10 C304.34,374.80 305.06,373.02 305.70,371.20 C306.34,369.38 307.02,366.91 307.60,364.70 C308.18,362.49 308.77,359.86 309.30,357.40 C309.83,354.94 310.44,351.91 310.90,349.30 C311.36,346.69 311.82,343.58 312.20,341.10 C312.58,338.62 312.93,335.88 313.30,333.80 C313.67,331.72 314.16,329.65 314.50,328.10 C314.84,326.55 315.10,324.87 315.40,324.10 C315.70,323.33 316.08,323.17 316.40,323.30 C316.72,323.43 317.11,323.35 317.40,324.90 C317.69,326.45 317.94,329.62 318.20,333.00 C318.46,336.38 318.74,341.70 319.00,346.00 C319.26,350.30 319.51,356.08 319.80,359.90 C320.09,363.72 320.45,367.08 320.80,369.90 C321.15,372.72 321.62,375.48 322.00,377.50 C322.38,379.52 322.77,381.30 323.20,382.50 C323.63,383.70 324.25,384.47 324.70,385.00 C325.15,385.53 325.63,385.61 326.00,385.80 C326.37,385.99 326.84,386.14 327.00,386.20" fill="none" stroke="#6c3d78" stroke-width="1.00" stroke-linejoin="round"/>
<path d="M349.50,307.00 C349.58,305.93 349.73,302.44 350.00,300.30 C350.27,298.16 350.80,295.74 351.20,293.60 C351.60,291.46 352.05,289.17 352.50,286.90 C352.95,284.63 353.54,281.67 354.00,279.40 C354.46,277.13 354.97,274.84 355.40,272.70 C355.83,270.56 356.27,268.14 356.70,266.00 C357.13,263.86 357.67,261.32 358.10,259.30 C358.53,257.28 358.98,255.14 359.40,253.40 C359.82,251.66 360.33,249.60 360.70,248.40 C361.07,247.20 361.43,246.38 361.70,245.90 C361.97,245.42 362.18,245.14 362.40,245.40 C362.62,245.66 362.88,246.35 363.10,247.50 C363.32,248.65 363.56,250.58 363.80,252.60 C364.04,254.62 364.34,257.43 364.60,260.10 C364.86,262.77 365.13,266.36 365.40,269.30 C365.67,272.24 366.03,275.56 366.30,278.50 C366.57,281.44 366.84,285.01 367.10,287.70 C367.36,290.39 367.58,293.16 367.90,295.30 C368.22,297.44 368.68,299.63 369.10,301.10 C369.52,302.57 370.02,303.60 370.50,304.50 C370.98,305.40 371.44,306.19 372.10,306.70 C372.76,307.21 373.82,307.36 374.60,307.70 C375.38,308.04 376.62,308.62 377.00,308.80 L377.00,308.80 L349.50,308.80 Z" fill="#9f3545" stroke="#8e2236" stroke-width="0.5"/>
<path d="M349.80,296.00 C349.90,295.89 350.10,295.81 350.40,295.30 C350.70,294.79 351.30,293.34 351.70,292.80 C352.10,292.26 352.53,292.84 352.90,291.90 C353.27,290.96 353.60,288.77 354.00,286.90 C354.40,285.03 354.97,281.94 355.40,280.20 C355.83,278.46 356.30,277.07 356.70,276.00 C357.10,274.93 357.52,274.57 357.90,273.50 C358.28,272.43 358.75,270.37 359.10,269.30 C359.45,268.23 359.76,267.73 360.10,266.80 C360.44,265.87 360.88,264.57 361.20,263.50 C361.52,262.43 361.83,261.17 362.10,260.10 C362.37,259.03 362.63,257.60 362.90,256.80 C363.17,256.00 363.53,255.64 363.80,255.10 C364.07,254.56 364.34,254.20 364.60,253.40 C364.86,252.60 365.13,251.17 365.40,250.10 C365.67,249.03 366.06,247.56 366.30,246.70 C366.54,245.84 366.69,244.57 366.90,244.70 C367.11,244.83 367.38,246.38 367.60,247.50 C367.82,248.62 368.09,250.48 368.30,251.70 C368.51,252.92 368.69,254.03 368.90,255.10 C369.11,256.17 369.38,256.53 369.60,258.40 C369.82,260.27 370.08,265.73 370.30,266.80 C370.52,267.87 370.79,264.56 371.00,265.10 C371.21,265.64 371.39,268.31 371.60,270.20 C371.81,272.09 372.08,274.76 372.30,276.90 C372.52,279.04 372.76,281.46 373.00,283.60 C373.24,285.74 373.48,288.43 373.80,290.30 C374.12,292.17 374.62,293.94 375.00,295.30 C375.38,296.66 375.88,297.86 376.20,298.80 C376.52,299.74 376.71,300.42 377.00,301.20 C377.29,301.98 377.60,302.98 378.00,303.70 C378.40,304.42 378.94,305.17 379.50,305.70 C380.06,306.23 380.78,306.68 381.50,307.00 C382.22,307.32 382.94,307.51 384.00,307.70 C385.06,307.89 386.16,308.09 388.10,308.20 C390.04,308.31 393.70,308.40 396.10,308.40 C398.50,308.40 401.66,308.36 403.10,308.20 C404.54,308.04 404.44,307.67 405.10,307.40 C405.76,307.13 406.54,306.66 407.20,306.50 C407.86,306.34 408.64,306.48 409.20,306.40 C409.76,306.32 410.22,305.95 410.70,306.00 C411.18,306.05 411.64,306.51 412.20,306.70 C412.76,306.89 413.46,307.02 414.20,307.20 C414.94,307.38 416.38,307.70 416.80,307.80" fill="none" stroke="#46689a" stroke-width="1.00" stroke-linejoin="round"/>
<path d="M349.50,386.60 C349.52,385.54 349.52,382.90 349.60,380.00 C349.68,377.10 349.74,371.99 350.00,368.50 C350.26,365.01 350.74,361.19 351.20,358.20 C351.66,355.21 352.37,352.47 352.90,349.80 C353.43,347.13 354.05,343.64 354.50,341.50 C354.95,339.36 355.35,338.02 355.70,336.40 C356.05,334.78 356.40,332.87 356.70,331.40 C357.00,329.93 357.33,328.27 357.60,327.20 C357.87,326.13 358.16,324.56 358.40,324.70 C358.64,324.84 358.89,328.23 359.10,328.10 C359.31,327.97 359.49,324.04 359.70,323.90 C359.91,323.76 360.18,327.07 360.40,327.20 C360.62,327.33 360.89,324.56 361.10,324.70 C361.31,324.84 361.49,327.97 361.70,328.10 C361.91,328.23 362.18,325.77 362.40,325.50 C362.62,325.23 362.88,325.73 363.10,326.40 C363.32,327.07 363.56,328.36 363.80,329.70 C364.04,331.04 364.34,332.91 364.60,334.80 C364.86,336.69 365.13,339.36 365.40,341.50 C365.67,343.64 366.03,346.06 366.30,348.20 C366.57,350.34 366.84,352.63 367.10,354.90 C367.36,357.17 367.63,360.00 367.90,362.40 C368.17,364.80 368.50,367.63 368.80,369.90 C369.10,372.17 369.45,374.71 369.80,376.60 C370.15,378.49 370.57,380.40 371.00,381.70 C371.43,383.00 371.92,384.04 372.50,384.70 C373.08,385.36 373.72,385.54 374.60,385.80 C375.48,386.06 371.38,386.22 378.00,386.30 C384.62,386.38 409.76,386.25 416.00,386.30 C422.24,386.35 416.84,386.55 417.00,386.60 L417.00,386.60 L349.50,386.60 Z" fill="#7aaa5e"/>
<path d="M349.60,378.30 C349.73,377.77 350.14,376.07 350.40,375.00 C350.66,373.93 350.88,372.67 351.20,371.60 C351.52,370.53 352.00,369.37 352.40,368.30 C352.80,367.23 353.28,365.97 353.70,364.90 C354.12,363.83 354.57,362.80 355.00,361.60 C355.43,360.40 355.97,358.74 356.40,357.40 C356.83,356.06 357.27,354.67 357.70,353.20 C358.13,351.73 358.72,349.54 359.10,348.20 C359.48,346.86 359.81,346.42 360.10,344.80 C360.39,343.18 360.64,339.97 360.90,338.10 C361.16,336.23 361.43,334.70 361.70,333.10 C361.97,331.50 362.33,329.44 362.60,328.10 C362.87,326.76 363.13,325.37 363.40,324.70 C363.67,324.03 364.03,323.90 364.30,323.90 C364.57,323.90 364.84,324.70 365.10,324.70 C365.36,324.70 365.63,323.95 365.90,323.90 C366.17,323.85 366.53,324.40 366.80,324.40 C367.07,324.40 367.36,323.45 367.60,323.90 C367.84,324.35 368.09,325.73 368.30,327.20 C368.51,328.67 368.69,331.08 368.90,333.10 C369.11,335.12 369.38,337.53 369.60,339.80 C369.82,342.07 370.08,344.88 370.30,347.30 C370.52,349.72 370.76,352.61 371.00,354.90 C371.24,357.19 371.51,359.60 371.80,361.60 C372.09,363.60 372.48,365.80 372.80,367.40 C373.12,369.00 373.43,370.42 373.80,371.60 C374.17,372.78 374.68,373.86 375.10,374.80 C375.52,375.74 376.02,376.67 376.40,377.50 C376.78,378.33 377.12,379.25 377.50,380.00 C377.88,380.75 378.32,381.61 378.80,382.20 C379.28,382.79 379.91,383.17 380.50,383.70 C381.09,384.23 381.78,385.10 382.50,385.50 C383.22,385.90 383.62,386.04 385.00,386.20 C386.38,386.36 389.00,386.50 391.10,386.50 C393.20,386.50 396.66,386.41 398.10,386.20 C399.54,385.99 399.46,385.60 400.10,385.20 C400.74,384.80 401.54,384.10 402.10,383.70 C402.66,383.30 403.12,382.75 403.60,382.70 C404.08,382.65 404.52,383.24 405.10,383.40 C405.68,383.56 406.54,383.60 407.20,383.70 C407.86,383.80 408.56,383.84 409.20,384.00 C409.84,384.16 410.56,384.54 411.20,384.70 C411.84,384.86 412.56,384.76 413.20,385.00 C413.84,385.24 414.62,385.88 415.20,386.20 C415.78,386.52 416.54,386.87 416.80,387.00" fill="none" stroke="#6c3d78" stroke-width="1.00" stroke-linejoin="round"/>
<path d="M7.0,308.8H10.6M8.6,305.5H10.6M8.6,302.2H10.6M8.6,299.0H10.6M7.0,295.7H10.6M8.6,292.4H10.6M8.6,289.1H10.6M8.6,285.9H10.6M7.0,282.6H10.6M8.6,279.3H10.6M8.6,276.1H10.6M8.6,272.8H10.6M7.0,269.5H10.6M8.6,266.2H10.6M8.6,262.9H10.6M8.6,259.7H10.6M7.0,256.4H10.6M8.6,253.1H10.6M8.6,249.9H10.6M8.6,246.6H10.6M7.0,243.3H10.6M11.4,308.8V311.0M12.8,308.8V311.0M14.2,308.8V311.0M16.2,308.8V311.0M17.3,308.8V311.4M18.4,308.8V311.0M21.4,308.8V311.0M22.5,308.8V311.0M23.5,308.8V311.0M24.3,308.8V311.0M25.0,308.8V311.0M25.8,308.8V312.0M41.5,308.8V312.0M57.2,308.8V312.0M72.9,308.8V312.0M30.6,308.8V310.8M33.3,308.8V310.8M35.3,308.8V310.8M36.8,308.8V310.8M38.1,308.8V310.8M39.1,308.8V310.8M40.0,308.8V310.8M40.8,308.8V310.8M46.2,308.8V310.8M49.0,308.8V310.8M50.9,308.8V310.8M52.5,308.8V310.8M53.7,308.8V310.8M54.7,308.8V310.8M55.7,308.8V310.8M56.5,308.8V310.8M61.9,308.8V310.8M64.7,308.8V310.8M66.6,308.8V310.8M68.2,308.8V310.8M69.4,308.8V310.8M70.5,308.8V310.8M71.4,308.8V310.8M72.2,308.8V310.8M77.6,308.8V310.8" stroke="#1a1a1a" stroke-width="0.85" fill="none"/>
<path d="M10.6,240.5H79.2V308.8H10.6Z" fill="none" stroke="#262626" stroke-width="1"/>
<path d="M7.0,386.6H10.6M8.6,383.3H10.6M8.6,380.1H10.6M8.6,376.8H10.6M7.0,373.5H10.6M8.6,370.2H10.6M8.6,366.9H10.6M8.6,363.7H10.6M7.0,360.4H10.6M8.6,357.1H10.6M8.6,353.9H10.6M8.6,350.6H10.6M7.0,347.3H10.6M8.6,344.0H10.6M8.6,340.8H10.6M8.6,337.5H10.6M7.0,334.2H10.6M8.6,330.9H10.6M8.6,327.7H10.6M8.6,324.4H10.6M7.0,321.1H10.6M11.4,386.6V388.8M12.8,386.6V388.8M14.2,386.6V388.8M16.2,386.6V388.8M17.3,386.6V389.2M18.4,386.6V388.8M21.4,386.6V388.8M22.5,386.6V388.8M23.5,386.6V388.8M24.3,386.6V388.8M25.0,386.6V388.8M25.8,386.6V389.8M41.5,386.6V389.8M57.2,386.6V389.8M72.9,386.6V389.8M30.6,386.6V388.6M33.3,386.6V388.6M35.3,386.6V388.6M36.8,386.6V388.6M38.1,386.6V388.6M39.1,386.6V388.6M40.0,386.6V388.6M40.8,386.6V388.6M46.2,386.6V388.6M49.0,386.6V388.6M50.9,386.6V388.6M52.5,386.6V388.6M53.7,386.6V388.6M54.7,386.6V388.6M55.7,386.6V388.6M56.5,386.6V388.6M61.9,386.6V388.6M64.7,386.6V388.6M66.6,386.6V388.6M68.2,386.6V388.6M69.4,386.6V388.6M70.5,386.6V388.6M71.4,386.6V388.6M72.2,386.6V388.6M77.6,386.6V388.6" stroke="#1a1a1a" stroke-width="0.85" fill="none"/>
<path d="M10.6,318.5H79.2V386.6H10.6Z" fill="none" stroke="#262626" stroke-width="1"/>
<path d="M85.1,308.8H88.7M86.7,305.5H88.7M86.7,302.2H88.7M86.7,299.0H88.7M85.1,295.7H88.7M86.7,292.4H88.7M86.7,289.1H88.7M86.7,285.9H88.7M85.1,282.6H88.7M86.7,279.3H88.7M86.7,276.1H88.7M86.7,272.8H88.7M85.1,269.5H88.7M86.7,266.2H88.7M86.7,262.9H88.7M86.7,259.7H88.7M85.1,256.4H88.7M86.7,253.1H88.7M86.7,249.9H88.7M86.7,246.6H88.7M85.1,243.3H88.7M89.5,308.8V311.0M90.9,308.8V311.0M92.3,308.8V311.0M94.3,308.8V311.0M95.5,308.8V311.4M96.6,308.8V311.0M99.6,308.8V311.0M100.7,308.8V311.0M101.7,308.8V311.0M102.5,308.8V311.0M103.2,308.8V311.0M104.0,308.8V312.0M119.7,308.8V312.0M135.5,308.8V312.0M151.3,308.8V312.0M108.7,308.8V310.8M111.5,308.8V310.8M113.5,308.8V310.8M115.0,308.8V310.8M116.3,308.8V310.8M117.3,308.8V310.8M118.2,308.8V310.8M119.1,308.8V310.8M124.5,308.8V310.8M127.2,308.8V310.8M129.2,308.8V310.8M130.7,308.8V310.8M132.0,308.8V310.8M133.0,308.8V310.8M134.0,308.8V310.8M134.8,308.8V310.8M140.2,308.8V310.8M143.0,308.8V310.8M145.0,308.8V310.8M146.5,308.8V310.8M147.8,308.8V310.8M148.8,308.8V310.8M149.7,308.8V310.8M150.5,308.8V310.8M156.0,308.8V310.8" stroke="#1a1a1a" stroke-width="0.85" fill="none"/>
<path d="M88.7,240.5H157.6V308.8H88.7Z" fill="none" stroke="#262626" stroke-width="1"/>
<path d="M85.1,386.6H88.7M86.7,383.3H88.7M86.7,380.1H88.7M86.7,376.8H88.7M85.1,373.5H88.7M86.7,370.2H88.7M86.7,366.9H88.7M86.7,363.7H88.7M85.1,360.4H88.7M86.7,357.1H88.7M86.7,353.9H88.7M86.7,350.6H88.7M85.1,347.3H88.7M86.7,344.0H88.7M86.7,340.8H88.7M86.7,337.5H88.7M85.1,334.2H88.7M86.7,330.9H88.7M86.7,327.7H88.7M86.7,324.4H88.7M85.1,321.1H88.7M89.5,386.6V388.8M90.9,386.6V388.8M92.3,386.6V388.8M94.3,386.6V388.8M95.5,386.6V389.2M96.6,386.6V388.8M99.6,386.6V388.8M100.7,386.6V388.8M101.7,386.6V388.8M102.5,386.6V388.8M103.2,386.6V388.8M104.0,386.6V389.8M119.7,386.6V389.8M135.5,386.6V389.8M151.3,386.6V389.8M108.7,386.6V388.6M111.5,386.6V388.6M113.5,386.6V388.6M115.0,386.6V388.6M116.3,386.6V388.6M117.3,386.6V388.6M118.2,386.6V388.6M119.1,386.6V388.6M124.5,386.6V388.6M127.2,386.6V388.6M129.2,386.6V388.6M130.7,386.6V388.6M132.0,386.6V388.6M133.0,386.6V388.6M134.0,386.6V388.6M134.8,386.6V388.6M140.2,386.6V388.6M143.0,386.6V388.6M145.0,386.6V388.6M146.5,386.6V388.6M147.8,386.6V388.6M148.8,386.6V388.6M149.7,386.6V388.6M150.5,386.6V388.6M156.0,386.6V388.6" stroke="#1a1a1a" stroke-width="0.85" fill="none"/>
<path d="M88.7,318.5H157.6V386.6H88.7Z" fill="none" stroke="#262626" stroke-width="1"/>
<path d="M176.6,308.8H180.2M178.2,305.5H180.2M178.2,302.2H180.2M178.2,299.0H180.2M176.6,295.7H180.2M178.2,292.4H180.2M178.2,289.1H180.2M178.2,285.9H180.2M176.6,282.6H180.2M178.2,279.3H180.2M178.2,276.1H180.2M178.2,272.8H180.2M176.6,269.5H180.2M178.2,266.2H180.2M178.2,262.9H180.2M178.2,259.7H180.2M176.6,256.4H180.2M178.2,253.1H180.2M178.2,249.9H180.2M178.2,246.6H180.2M176.6,243.3H180.2M181.0,308.8V311.0M182.4,308.8V311.0M183.8,308.8V311.0M185.8,308.8V311.0M186.9,308.8V311.4M188.0,308.8V311.0M191.0,308.8V311.0M192.1,308.8V311.0M193.1,308.8V311.0M193.9,308.8V311.0M194.6,308.8V311.0M195.4,308.8V312.0M211.0,308.8V312.0M226.6,308.8V312.0M242.3,308.8V312.0M200.1,308.8V310.8M202.9,308.8V310.8M204.8,308.8V310.8M206.3,308.8V310.8M207.6,308.8V310.8M208.6,308.8V310.8M209.5,308.8V310.8M210.3,308.8V310.8M215.7,308.8V310.8M218.5,308.8V310.8M220.4,308.8V310.8M221.9,308.8V310.8M223.2,308.8V310.8M224.2,308.8V310.8M225.1,308.8V310.8M225.9,308.8V310.8M231.4,308.8V310.8M234.1,308.8V310.8M236.1,308.8V310.8M237.6,308.8V310.8M238.8,308.8V310.8M239.9,308.8V310.8M240.8,308.8V310.8M241.6,308.8V310.8M247.0,308.8V310.8" stroke="#1a1a1a" stroke-width="0.85" fill="none"/>
<path d="M180.2,240.5H248.6V308.8H180.2Z" fill="none" stroke="#262626" stroke-width="1"/>
<path d="M176.6,386.6H180.2M178.2,383.3H180.2M178.2,380.1H180.2M178.2,376.8H180.2M176.6,373.5H180.2M178.2,370.2H180.2M178.2,366.9H180.2M178.2,363.7H180.2M176.6,360.4H180.2M178.2,357.1H180.2M178.2,353.9H180.2M178.2,350.6H180.2M176.6,347.3H180.2M178.2,344.0H180.2M178.2,340.8H180.2M178.2,337.5H180.2M176.6,334.2H180.2M178.2,330.9H180.2M178.2,327.7H180.2M178.2,324.4H180.2M176.6,321.1H180.2M181.0,386.6V388.8M182.4,386.6V388.8M183.8,386.6V388.8M185.8,386.6V388.8M186.9,386.6V389.2M188.0,386.6V388.8M191.0,386.6V388.8M192.1,386.6V388.8M193.1,386.6V388.8M193.9,386.6V388.8M194.6,386.6V388.8M195.4,386.6V389.8M211.0,386.6V389.8M226.6,386.6V389.8M242.3,386.6V389.8M200.1,386.6V388.6M202.9,386.6V388.6M204.8,386.6V388.6M206.3,386.6V388.6M207.6,386.6V388.6M208.6,386.6V388.6M209.5,386.6V388.6M210.3,386.6V388.6M215.7,386.6V388.6M218.5,386.6V388.6M220.4,386.6V388.6M221.9,386.6V388.6M223.2,386.6V388.6M224.2,386.6V388.6M225.1,386.6V388.6M225.9,386.6V388.6M231.4,386.6V388.6M234.1,386.6V388.6M236.1,386.6V388.6M237.6,386.6V388.6M238.8,386.6V388.6M239.9,386.6V388.6M240.8,386.6V388.6M241.6,386.6V388.6M247.0,386.6V388.6" stroke="#1a1a1a" stroke-width="0.85" fill="none"/>
<path d="M180.2,318.5H248.6V386.6H180.2Z" fill="none" stroke="#262626" stroke-width="1"/>
<path d="M254.9,308.8H258.5M256.5,305.5H258.5M256.5,302.2H258.5M256.5,299.0H258.5M254.9,295.7H258.5M256.5,292.4H258.5M256.5,289.1H258.5M256.5,285.9H258.5M254.9,282.6H258.5M256.5,279.3H258.5M256.5,276.1H258.5M256.5,272.8H258.5M254.9,269.5H258.5M256.5,266.2H258.5M256.5,262.9H258.5M256.5,259.7H258.5M254.9,256.4H258.5M256.5,253.1H258.5M256.5,249.9H258.5M256.5,246.6H258.5M254.9,243.3H258.5M259.3,308.8V311.0M260.7,308.8V311.0M262.1,308.8V311.0M264.2,308.8V311.0M265.3,308.8V311.4M266.4,308.8V311.0M269.4,308.8V311.0M270.5,308.8V311.0M271.5,308.8V311.0M272.3,308.8V311.0M273.0,308.8V311.0M273.8,308.8V312.0M289.6,308.8V312.0M305.4,308.8V312.0M321.2,308.8V312.0M278.6,308.8V310.8M281.4,308.8V310.8M283.4,308.8V310.8M284.9,308.8V310.8M286.2,308.8V310.8M287.2,308.8V310.8M288.1,308.8V310.8M288.9,308.8V310.8M294.4,308.8V310.8M297.1,308.8V310.8M299.1,308.8V310.8M300.7,308.8V310.8M301.9,308.8V310.8M303.0,308.8V310.8M303.9,308.8V310.8M304.7,308.8V310.8M310.2,308.8V310.8M313.0,308.8V310.8M314.9,308.8V310.8M316.5,308.8V310.8M317.7,308.8V310.8M318.8,308.8V310.8M319.7,308.8V310.8M320.5,308.8V310.8M326.0,308.8V310.8" stroke="#1a1a1a" stroke-width="0.85" fill="none"/>
<path d="M258.5,240.5H327.6V308.8H258.5Z" fill="none" stroke="#262626" stroke-width="1"/>
<path d="M254.9,386.6H258.5M256.5,383.3H258.5M256.5,380.1H258.5M256.5,376.8H258.5M254.9,373.5H258.5M256.5,370.2H258.5M256.5,366.9H258.5M256.5,363.7H258.5M254.9,360.4H258.5M256.5,357.1H258.5M256.5,353.9H258.5M256.5,350.6H258.5M254.9,347.3H258.5M256.5,344.0H258.5M256.5,340.8H258.5M256.5,337.5H258.5M254.9,334.2H258.5M256.5,330.9H258.5M256.5,327.7H258.5M256.5,324.4H258.5M254.9,321.1H258.5M259.3,386.6V388.8M260.7,386.6V388.8M262.1,386.6V388.8M264.2,386.6V388.8M265.3,386.6V389.2M266.4,386.6V388.8M269.4,386.6V388.8M270.5,386.6V388.8M271.5,386.6V388.8M272.3,386.6V388.8M273.0,386.6V388.8M273.8,386.6V389.8M289.6,386.6V389.8M305.4,386.6V389.8M321.2,386.6V389.8M278.6,386.6V388.6M281.4,386.6V388.6M283.4,386.6V388.6M284.9,386.6V388.6M286.2,386.6V388.6M287.2,386.6V388.6M288.1,386.6V388.6M288.9,386.6V388.6M294.4,386.6V388.6M297.1,386.6V388.6M299.1,386.6V388.6M300.7,386.6V388.6M301.9,386.6V388.6M303.0,386.6V388.6M303.9,386.6V388.6M304.7,386.6V388.6M310.2,386.6V388.6M313.0,386.6V388.6M314.9,386.6V388.6M316.5,386.6V388.6M317.7,386.6V388.6M318.8,386.6V388.6M319.7,386.6V388.6M320.5,386.6V388.6M326.0,386.6V388.6" stroke="#1a1a1a" stroke-width="0.85" fill="none"/>
<path d="M258.5,318.5H327.6V386.6H258.5Z" fill="none" stroke="#262626" stroke-width="1"/>
<path d="M345.6,308.8H349.2M347.2,305.5H349.2M347.2,302.2H349.2M347.2,299.0H349.2M345.6,295.7H349.2M347.2,292.4H349.2M347.2,289.1H349.2M347.2,285.9H349.2M345.6,282.6H349.2M347.2,279.3H349.2M347.2,276.1H349.2M347.2,272.8H349.2M345.6,269.5H349.2M347.2,266.2H349.2M347.2,262.9H349.2M347.2,259.7H349.2M345.6,256.4H349.2M347.2,253.1H349.2M347.2,249.9H349.2M347.2,246.6H349.2M345.6,243.3H349.2M350.0,308.8V311.0M351.4,308.8V311.0M352.8,308.8V311.0M354.8,308.8V311.0M355.9,308.8V311.4M357.0,308.8V311.0M360.0,308.8V311.0M361.1,308.8V311.0M362.0,308.8V311.0M362.9,308.8V311.0M363.5,308.8V311.0M364.4,308.8V312.0M379.9,308.8V312.0M395.6,308.8V312.0M411.2,308.8V312.0M369.1,308.8V310.8M371.8,308.8V310.8M373.8,308.8V310.8M375.3,308.8V310.8M376.5,308.8V310.8M377.6,308.8V310.8M378.5,308.8V310.8M379.3,308.8V310.8M384.6,308.8V310.8M387.4,308.8V310.8M389.4,308.8V310.8M390.9,308.8V310.8M392.1,308.8V310.8M393.2,308.8V310.8M394.1,308.8V310.8M394.9,308.8V310.8M400.3,308.8V310.8M403.0,308.8V310.8M405.0,308.8V310.8M406.5,308.8V310.8M407.7,308.8V310.8M408.8,308.8V310.8M409.7,308.8V310.8M410.5,308.8V310.8M415.9,308.8V310.8" stroke="#1a1a1a" stroke-width="0.85" fill="none"/>
<path d="M349.2,240.5H417.5V308.8H349.2Z" fill="none" stroke="#262626" stroke-width="1"/>
<path d="M345.6,386.6H349.2M347.2,383.3H349.2M347.2,380.1H349.2M347.2,376.8H349.2M345.6,373.5H349.2M347.2,370.2H349.2M347.2,366.9H349.2M347.2,363.7H349.2M345.6,360.4H349.2M347.2,357.1H349.2M347.2,353.9H349.2M347.2,350.6H349.2M345.6,347.3H349.2M347.2,344.0H349.2M347.2,340.8H349.2M347.2,337.5H349.2M345.6,334.2H349.2M347.2,330.9H349.2M347.2,327.7H349.2M347.2,324.4H349.2M345.6,321.1H349.2M350.0,386.6V388.8M351.4,386.6V388.8M352.8,386.6V388.8M354.8,386.6V388.8M355.9,386.6V389.2M357.0,386.6V388.8M360.0,386.6V388.8M361.1,386.6V388.8M362.0,386.6V388.8M362.9,386.6V388.8M363.5,386.6V388.8M364.4,386.6V389.8M379.9,386.6V389.8M395.6,386.6V389.8M411.2,386.6V389.8M369.1,386.6V388.6M371.8,386.6V388.6M373.8,386.6V388.6M375.3,386.6V388.6M376.5,386.6V388.6M377.6,386.6V388.6M378.5,386.6V388.6M379.3,386.6V388.6M384.6,386.6V388.6M387.4,386.6V388.6M389.4,386.6V388.6M390.9,386.6V388.6M392.1,386.6V388.6M393.2,386.6V388.6M394.1,386.6V388.6M394.9,386.6V388.6M400.3,386.6V388.6M403.0,386.6V388.6M405.0,386.6V388.6M406.5,386.6V388.6M407.7,386.6V388.6M408.8,386.6V388.6M409.7,386.6V388.6M410.5,386.6V388.6M415.9,386.6V388.6" stroke="#1a1a1a" stroke-width="0.85" fill="none"/>
<path d="M349.2,318.5H417.5V386.6H349.2Z" fill="none" stroke="#262626" stroke-width="1"/>
<text transform="translate(75.30,250.80) scale(0.860,1)" font-size="8.20" fill="#a8364a" text-anchor="end">484</text>
<text transform="translate(75.30,259.50) scale(0.860,1)" font-size="8.20" fill="#4a6b9b" text-anchor="end">1720</text>
<text transform="translate(75.30,329.10) scale(0.860,1)" font-size="8.20" fill="#7fae62" text-anchor="end">411</text>
<text transform="translate(75.30,338.10) scale(0.860,1)" font-size="8.20" fill="#6c3d78" text-anchor="end">1159</text>
<text transform="translate(95.60,250.80) scale(0.860,1)" font-size="8.20" fill="#a8364a" text-anchor="start">27181</text>
<text transform="translate(95.60,259.50) scale(0.860,1)" font-size="8.20" fill="#4a6b9b" text-anchor="start">33857</text>
<text transform="translate(95.60,329.10) scale(0.860,1)" font-size="8.20" fill="#7fae62" text-anchor="start">24025</text>
<text transform="translate(95.60,338.10) scale(0.860,1)" font-size="8.20" fill="#6c3d78" text-anchor="start">33205</text>
<text transform="translate(185.20,250.80) scale(0.860,1)" font-size="8.20" fill="#a8364a" text-anchor="start">1083</text>
<text transform="translate(185.20,259.50) scale(0.860,1)" font-size="8.20" fill="#4a6b9b" text-anchor="start">4141</text>
<text transform="translate(185.20,329.10) scale(0.860,1)" font-size="8.20" fill="#7fae62" text-anchor="start">987</text>
<text transform="translate(185.20,338.10) scale(0.860,1)" font-size="8.20" fill="#6c3d78" text-anchor="start">3643</text>
<text transform="translate(261.80,250.80) scale(0.860,1)" font-size="8.20" fill="#a8364a" text-anchor="start">10334</text>
<text transform="translate(261.80,259.50) scale(0.860,1)" font-size="8.20" fill="#4a6b9b" text-anchor="start">26298</text>
<text transform="translate(261.80,329.10) scale(0.860,1)" font-size="8.20" fill="#7fae62" text-anchor="start">10860</text>
<text transform="translate(261.80,338.10) scale(0.860,1)" font-size="8.20" fill="#6c3d78" text-anchor="start">24891</text>
<text transform="translate(414.60,250.80) scale(0.860,1)" font-size="8.20" fill="#a8364a" text-anchor="end">52</text>
<text transform="translate(414.60,259.50) scale(0.860,1)" font-size="8.20" fill="#4a6b9b" text-anchor="end">132</text>
<text transform="translate(414.60,329.10) scale(0.860,1)" font-size="8.20" fill="#7fae62" text-anchor="end">53</text>
<text transform="translate(414.60,338.10) scale(0.860,1)" font-size="8.20" fill="#6c3d78" text-anchor="end">143</text>
<text transform="translate(84.00,235.00) scale(0.825,1)" font-size="10.80" fill="#151515" text-anchor="middle">B220+ cells</text>
<text transform="translate(253.80,235.00) scale(0.825,1)" font-size="10.80" fill="#151515" text-anchor="middle">CD11c+ cells</text>
<text transform="translate(383.30,235.00) scale(0.825,1)" font-size="10.80" fill="#151515" text-anchor="middle">NK1.1+ cells</text>
<text transform="translate(6.40,226.30) scale(0.880,1)" font-size="10.60" fill="#151515" text-anchor="start">B</text>
<text transform="translate(174.60,226.50) scale(0.880,1)" font-size="10.60" fill="#151515" text-anchor="start">C</text>
<text transform="translate(344.20,226.50) scale(0.880,1)" font-size="10.60" fill="#151515" text-anchor="start">D</text>
<rect x="421.5" y="265.6" width="7" height="6.3" fill="#9f3545"/>
<rect x="422" y="278.3" width="6" height="5.6" fill="#fff" stroke="#46689a" stroke-width="1"/>
<text x="431.20" y="271.30" font-size="7.00" fill="#151515" text-anchor="start">No Ag</text>
<text transform="translate(431.20,283.80) scale(0.920,1)" font-size="7.00" fill="#151515" text-anchor="start">PBS44</text>
<rect x="421.8" y="344.2" width="7" height="6.3" fill="#7aaa5e"/>
<rect x="422" y="356.3" width="6" height="5.6" fill="#fff" stroke="#6c3d78" stroke-width="1"/>
<text x="431.20" y="349.80" font-size="7.00" fill="#151515" text-anchor="start">ULFP</text>
<text x="431.20" y="361.80" font-size="7.00" fill="#151515" text-anchor="start">LFP</text>
<path d="M9.1,394H75.7" stroke="#6a6a6a" stroke-width="1.4"/>
<path d="M80.9,394L73.6,391.2L75.2,394L73.6,396.8Z" fill="#111"/>
<text transform="translate(44.90,408.20) scale(0.860,1)" font-size="10.00" fill="#151515" text-anchor="middle">CD86</text>
<path d="M87.2,394H154.1" stroke="#6a6a6a" stroke-width="1.4"/>
<path d="M159.3,394L152.0,391.2L153.6,394L152.0,396.8Z" fill="#111"/>
<text transform="translate(123.15,408.20) scale(0.860,1)" font-size="10.00" fill="#151515" text-anchor="middle">MHC II</text>
<path d="M178.7,394H245.1" stroke="#6a6a6a" stroke-width="1.4"/>
<path d="M250.3,394L243.0,391.2L244.6,394L243.0,396.8Z" fill="#111"/>
<text transform="translate(214.40,408.20) scale(0.860,1)" font-size="10.00" fill="#151515" text-anchor="middle">CD86</text>
<path d="M257.0,394H324.1" stroke="#6a6a6a" stroke-width="1.4"/>
<path d="M329.3,394L322.0,391.2L323.6,394L322.0,396.8Z" fill="#111"/>
<text transform="translate(293.05,408.20) scale(0.860,1)" font-size="10.00" fill="#151515" text-anchor="middle">MHC II</text>
<path d="M347.7,394H414.0" stroke="#6a6a6a" stroke-width="1.4"/>
<path d="M419.2,394L411.9,391.2L413.5,394L411.9,396.8Z" fill="#111"/>
<text transform="translate(383.35,408.20) scale(0.860,1)" font-size="10.00" fill="#151515" text-anchor="middle">IFN-<tspan font-style="italic">&#947;</tspan></text>
<rect x="0" y="0" width="520" height="1.1" fill="#111"/>
<rect x="0" y="0" width="1.6" height="418" fill="#4a4a4a"/>
<rect x="518.1" y="0" width="1.9" height="418" fill="#4f4f4f"/>
<rect x="0" y="416" width="520" height="2" fill="#4f4f4f"/>
</svg>
</body></html>
